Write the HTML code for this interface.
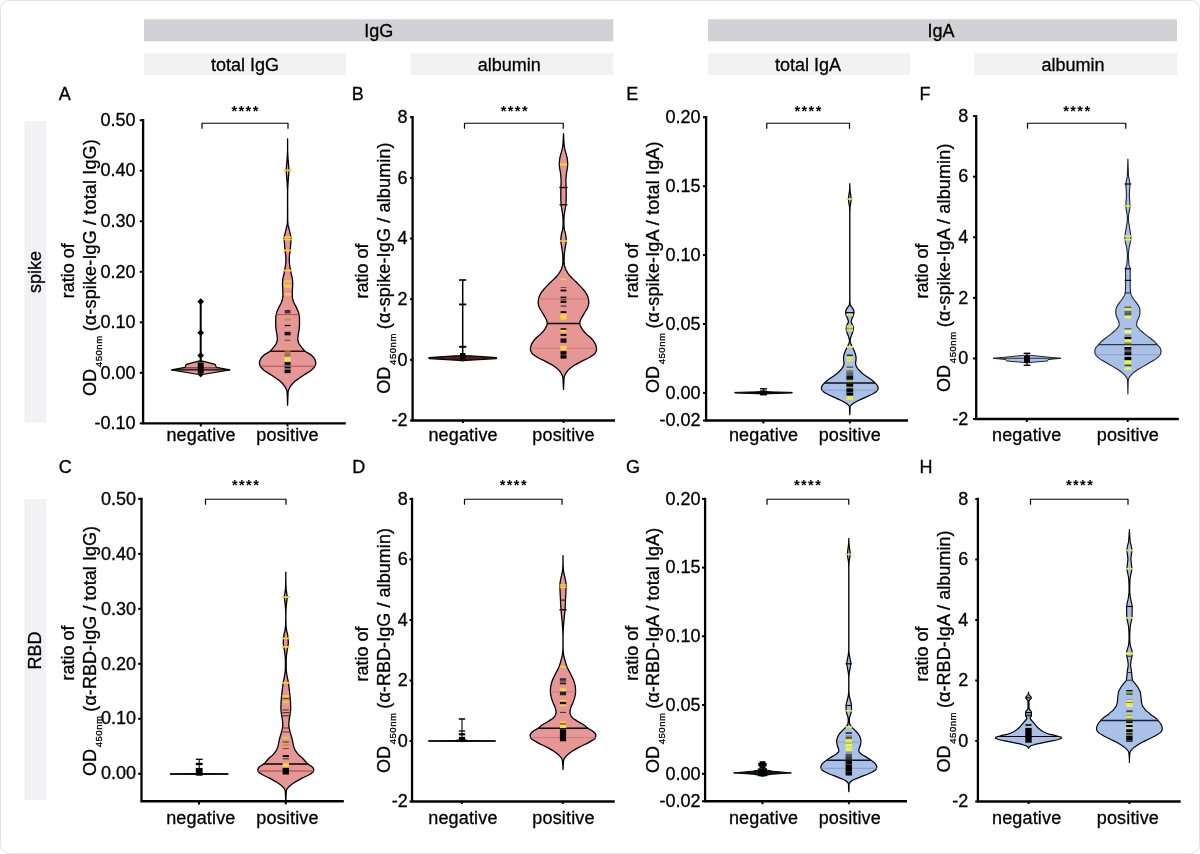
<!DOCTYPE html>
<html><head><meta charset="utf-8"><title>Figure</title>
<style>
html,body{margin:0;padding:0;background:#fff;}
body{width:1200px;height:854px;overflow:hidden;position:relative;font-family:"Liberation Sans", Arial, Helvetica, sans-serif;}
#card{position:absolute;box-sizing:border-box;left:-0.5px;top:-0.5px;width:1200.9px;height:854.6px;background:#fff;border-radius:9.5px;border:1.5px solid #e2e2e2;}
svg{position:absolute;left:0;top:0;}
text{font-family:"Liberation Sans", Arial, Helvetica, sans-serif;fill:#000;stroke:#000;stroke-width:0.3px;}
.t{font-size:18px;}
.h{font-size:18px;}
.x{letter-spacing:0.16px;}
.l{font-size:18px;}
.s{font-size:14.5px;font-weight:bold;letter-spacing:1.45px;stroke-width:0;}
.sub{font-size:9.6px;letter-spacing:0.5px;}
</style></head><body>
<div id="card"></div>
<svg width="1200" height="854" viewBox="0 0 1200 854">
<rect x="144" y="19.3" width="469.3" height="22" fill="#d1d1d6"/>
<rect x="708" y="19.3" width="469" height="22" fill="#d1d1d6"/>
<rect x="144" y="53.4" width="202" height="21.6" fill="#f2f2f5"/>
<rect x="410.5" y="53.4" width="202.8" height="21.6" fill="#f2f2f5"/>
<rect x="708" y="53.4" width="202" height="21.6" fill="#f2f2f5"/>
<rect x="974.3" y="53.4" width="202.7" height="21.6" fill="#f2f2f5"/>
<rect x="24.3" y="121" width="21.7" height="301.5" fill="#f2f2f5"/>
<rect x="24.3" y="499" width="21.7" height="301" fill="#f2f2f5"/>
<text x="378.75" y="36.9" text-anchor="middle" class="h">IgG</text>
<text x="941" y="36.9" text-anchor="middle" class="h">IgA</text>
<text x="245" y="71.2" text-anchor="middle" class="h">total IgG</text>
<text x="509.25" y="71.2" text-anchor="middle" class="h">albumin</text>
<text x="808" y="71.2" text-anchor="middle" class="h">total IgA</text>
<text x="1073" y="71.2" text-anchor="middle" class="h">albumin</text>
<text transform="translate(41.1 272) rotate(-90)" text-anchor="middle" class="t">spike</text>
<text transform="translate(41.1 650.6) rotate(-90)" text-anchor="middle" class="t">RBD</text>
<g id="panelA">
<path d="M200.7 360.7L215.2 364.4L216.3 367.3L229.9 369.8L202.7 374.5L200.7 376.5L200.7 376.5L198.7 374.5L171.5 369.8L185.1 367.3L186.2 364.4L200.7 360.7Z" fill="#e79696" stroke="#000" stroke-width="1.2" stroke-linejoin="round"/>
<line x1="171.5" x2="229.9" y1="369.8" y2="369.8" stroke="#000" stroke-width="1.2"/>
<line x1="181.84" x2="219.56" y1="367.9" y2="367.9" stroke="#3a1010" stroke-width="0.9"/>
<line x1="200.7" x2="200.7" y1="301.5" y2="362" stroke="#000" stroke-width="2.0"/>
<rect x="197.7" y="362.4" width="6" height="11.2" fill="#000"/>
<path d="M200.7 298.3L204 301.6L200.7 304.9L197.4 301.6Z" fill="#000"/>
<path d="M200.7 329.4L204 332.7L200.7 336L197.4 332.7Z" fill="#000"/>
<path d="M200.7 352.2L204 355.5L200.7 358.8L197.4 355.5Z" fill="#000"/>
<path d="M200.7 372L202.7 374L200.7 376L198.7 374Z" fill="#000"/>
<path d="M287.6 138.8L287.6 140.01L287.6 141.21L287.61 142.42L287.61 143.62L287.62 144.83L287.62 146.03L287.63 147.24L287.64 148.44L287.65 149.65L287.66 150.85L287.69 152.06L287.74 153.27L287.8 154.47L287.86 155.68L287.93 156.88L288.01 158.09L288.09 159.29L288.19 160.5L288.3 161.7L288.41 162.91L288.51 164.11L288.61 165.32L288.72 166.52L288.82 167.73L288.9 168.94L288.95 170.14L288.94 171.35L288.88 172.55L288.79 173.76L288.67 174.96L288.57 176.17L288.47 177.37L288.38 178.58L288.29 179.78L288.2 180.99L288.11 182.2L288.03 183.4L287.97 184.61L287.9 185.81L287.82 187.02L287.76 188.22L287.7 189.43L287.67 190.63L287.65 191.84L287.65 193.04L287.65 194.25L287.65 195.46L287.65 196.66L287.65 197.87L287.65 199.07L287.66 200.28L287.66 201.48L287.66 202.69L287.66 203.89L287.67 205.1L287.67 206.3L287.67 207.51L287.68 208.71L287.68 209.92L287.68 211.13L287.69 212.33L287.69 213.54L287.7 214.74L287.7 215.95L287.71 217.15L287.72 218.36L287.74 219.56L287.76 220.77L287.78 221.97L287.83 223.18L287.99 224.39L288.24 225.59L288.54 226.8L288.84 228L289.11 229.21L289.41 230.41L289.72 231.62L290.03 232.82L290.32 234.03L290.6 235.23L290.92 236.44L291.1 237.65L291.08 238.85L291.01 240.06L290.92 241.26L290.82 242.47L290.72 243.67L290.63 244.88L290.55 246.08L290.46 247.29L290.37 248.49L290.27 249.7L290.14 250.9L289.96 252.11L289.74 253.32L289.55 254.52L289.42 255.73L289.37 256.93L289.33 258.14L289.31 259.34L289.3 260.55L289.33 261.75L289.43 262.96L289.56 264.16L289.72 265.37L289.88 266.58L290.07 267.78L290.31 268.99L290.56 270.19L290.79 271.4L290.99 272.6L291.19 273.81L291.43 275.01L291.75 276.22L292.09 277.42L292.36 278.63L292.51 279.84L292.58 281.04L292.64 282.25L292.68 283.45L292.7 284.66L292.68 285.86L292.61 287.07L292.51 288.27L292.43 289.48L292.39 290.68L292.35 291.89L292.33 293.1L292.31 294.3L292.3 295.51L292.36 296.71L292.52 297.92L292.74 299.12L293 300.33L293.44 301.53L293.99 302.74L294.58 303.94L295.16 305.15L295.79 306.35L296.41 307.56L296.97 308.77L297.51 309.97L298.04 311.18L298.5 312.38L298.84 313.59L299.05 314.79L299.24 316L299.39 317.2L299.48 318.41L299.5 319.61L299.5 320.82L299.5 322.03L299.5 323.23L299.5 324.44L299.47 325.64L299.39 326.85L299.27 328.05L299.15 329.26L299 330.46L298.79 331.67L298.55 332.87L298.33 334.08L298.17 335.29L298.02 336.49L297.89 337.7L297.81 338.9L297.85 340.11L298.12 341.31L298.56 342.52L299.07 343.72L299.76 344.93L300.72 346.13L301.73 347.34L302.68 348.54L303.67 349.75L304.83 350.96L306.45 352.16L308.58 353.37L310.6 354.57L312 355.78L313.16 356.98L314.13 358.19L314.82 359.39L315.27 360.6L315.64 361.8L315.8 363.01L315.64 364.22L315.23 365.42L314.68 366.63L313.78 367.83L312.58 369.04L311.24 370.24L309.63 371.45L307.74 372.65L305.79 373.86L303.94 375.06L302.08 376.27L300.23 377.48L298.5 378.68L296.88 379.89L295.32 381.09L293.91 382.3L292.72 383.5L291.68 384.71L290.77 385.91L290 387.12L289.4 388.32L288.83 389.53L288.38 390.73L288.12 391.94L288.03 393.15L287.97 394.35L287.93 395.56L287.89 396.76L287.85 397.97L287.81 399.17L287.76 400.38L287.72 401.58L287.68 402.79L287.64 403.99L287.6 405.2L287.6 405.2L287.56 403.99L287.52 402.79L287.48 401.58L287.44 400.38L287.39 399.17L287.35 397.97L287.31 396.76L287.27 395.56L287.23 394.35L287.17 393.15L287.08 391.94L286.82 390.73L286.37 389.53L285.8 388.32L285.2 387.12L284.43 385.91L283.52 384.71L282.48 383.5L281.29 382.3L279.88 381.09L278.32 379.89L276.7 378.68L274.97 377.48L273.12 376.27L271.26 375.06L269.41 373.86L267.46 372.65L265.57 371.45L263.96 370.24L262.62 369.04L261.42 367.83L260.52 366.63L259.97 365.42L259.56 364.22L259.4 363.01L259.56 361.8L259.93 360.6L260.38 359.39L261.07 358.19L262.04 356.98L263.2 355.78L264.6 354.57L266.62 353.37L268.75 352.16L270.37 350.96L271.53 349.75L272.52 348.54L273.47 347.34L274.48 346.13L275.44 344.93L276.13 343.72L276.64 342.52L277.08 341.31L277.35 340.11L277.39 338.9L277.31 337.7L277.18 336.49L277.03 335.29L276.87 334.08L276.65 332.87L276.41 331.67L276.2 330.46L276.05 329.26L275.93 328.05L275.81 326.85L275.73 325.64L275.7 324.44L275.7 323.23L275.7 322.03L275.7 320.82L275.7 319.61L275.72 318.41L275.81 317.2L275.96 316L276.15 314.79L276.36 313.59L276.7 312.38L277.16 311.18L277.69 309.97L278.23 308.77L278.79 307.56L279.41 306.35L280.04 305.15L280.62 303.94L281.21 302.74L281.76 301.53L282.2 300.33L282.46 299.12L282.68 297.92L282.84 296.71L282.9 295.51L282.89 294.3L282.87 293.1L282.85 291.89L282.81 290.68L282.77 289.48L282.69 288.27L282.59 287.07L282.52 285.86L282.5 284.66L282.52 283.45L282.56 282.25L282.62 281.04L282.69 279.84L282.84 278.63L283.11 277.42L283.45 276.22L283.77 275.01L284.01 273.81L284.21 272.6L284.41 271.4L284.64 270.19L284.89 268.99L285.13 267.78L285.32 266.58L285.48 265.37L285.64 264.16L285.77 262.96L285.87 261.75L285.9 260.55L285.89 259.34L285.87 258.14L285.83 256.93L285.78 255.73L285.65 254.52L285.46 253.32L285.24 252.11L285.06 250.9L284.93 249.7L284.83 248.49L284.74 247.29L284.65 246.08L284.57 244.88L284.48 243.67L284.38 242.47L284.28 241.26L284.19 240.06L284.12 238.85L284.1 237.65L284.28 236.44L284.6 235.23L284.88 234.03L285.17 232.82L285.48 231.62L285.79 230.41L286.09 229.21L286.36 228L286.66 226.8L286.96 225.59L287.21 224.39L287.37 223.18L287.42 221.97L287.44 220.77L287.46 219.56L287.48 218.36L287.49 217.15L287.5 215.95L287.5 214.74L287.51 213.54L287.51 212.33L287.52 211.13L287.52 209.92L287.52 208.71L287.53 207.51L287.53 206.3L287.53 205.1L287.54 203.89L287.54 202.69L287.54 201.48L287.54 200.28L287.55 199.07L287.55 197.87L287.55 196.66L287.55 195.46L287.55 194.25L287.55 193.04L287.55 191.84L287.53 190.63L287.5 189.43L287.44 188.22L287.38 187.02L287.3 185.81L287.23 184.61L287.17 183.4L287.09 182.2L287 180.99L286.91 179.78L286.82 178.58L286.73 177.37L286.63 176.17L286.53 174.96L286.41 173.76L286.32 172.55L286.26 171.35L286.25 170.14L286.3 168.94L286.38 167.73L286.48 166.52L286.59 165.32L286.69 164.11L286.79 162.91L286.9 161.7L287.01 160.5L287.11 159.29L287.19 158.09L287.27 156.88L287.34 155.68L287.4 154.47L287.46 153.27L287.51 152.06L287.54 150.85L287.55 149.65L287.56 148.44L287.57 147.24L287.58 146.03L287.58 144.83L287.59 143.62L287.59 142.42L287.6 141.21L287.6 140.01L287.6 138.8Z" fill="#e79696" stroke="#000" stroke-width="1.3" stroke-linejoin="round"/>
<line x1="276.18" x2="299.02" y1="314.6" y2="314.6" stroke="#a84848" stroke-width="0.9"/>
<line x1="260.3" x2="314.9" y1="366.2" y2="366.2" stroke="#a84848" stroke-width="0.9"/>
<line x1="270.1" x2="305.1" y1="351.2" y2="351.2" stroke="#3a0c0c" stroke-width="1.4"/>
<rect x="283.4" y="169.5" width="8.4" height="1.8" fill="#f5d327"/>
<rect x="283.3" y="236.5" width="8.6" height="1.6" fill="#f5d327"/>
<rect x="283.3" y="238.9" width="8.6" height="1.4" fill="#f5d327"/>
<rect x="283.4" y="249.5" width="8.4" height="1.8" fill="#f5d327"/>
<rect x="283.6" y="269.7" width="8" height="1.8" fill="#f5d327"/>
<rect x="284" y="280.5" width="7.2" height="1.8" fill="#f5d327"/>
<rect x="284" y="284.6" width="7.2" height="1.4" fill="#f5d327"/>
<rect x="284" y="286.3" width="7.2" height="1.4" fill="#f5d327"/>
<rect x="284" y="293.3" width="7.2" height="2.2" fill="#f5d327"/>
<rect x="284.7" y="310" width="5.8" height="3.4" fill="#3a3236"/>
<rect x="284.7" y="318.7" width="5.8" height="1.8" fill="#b09a20"/>
<rect x="284.7" y="324.85" width="5.8" height="1.3" fill="#000"/>
<rect x="284.6" y="331.85" width="6" height="3.5" fill="#120c0c"/>
<rect x="284.7" y="339.7" width="5.8" height="1" fill="#6a3a3a"/>
<rect x="284.6" y="350.5" width="6" height="1" fill="#c8b428"/>
<rect x="284.6" y="351.9" width="6" height="1" fill="#a89428"/>
<rect x="284.6" y="353.4" width="6" height="1" fill="#6a5a20"/>
<rect x="284.6" y="355.1" width="6" height="1" fill="#7a4a3a"/>
<rect x="284.5" y="357.4" width="6.2" height="4" fill="#f0e63c"/>
<rect x="284.6" y="362.15" width="6" height="2.7" fill="#000"/>
<rect x="284.6" y="365.3" width="6" height="1.4" fill="#555a66"/>
<rect x="284.6" y="366.9" width="6" height="1.4" fill="#000"/>
<rect x="284.6" y="368.4" width="6" height="0.8" fill="#6a6420"/>
<rect x="284.6" y="369.6" width="6" height="3.6" fill="#000"/>
<path d="M143.1 119.1V423.35H345.8" fill="none" stroke="#000" stroke-width="2.3" stroke-linecap="butt" stroke-linejoin="miter"/>
<line x1="139.75" x2="143.1" y1="120.25" y2="120.25" stroke="#000" stroke-width="2.0"/>
<text x="135.55" y="125.95" text-anchor="end" class="t">0.50</text>
<line x1="139.75" x2="143.1" y1="170.77" y2="170.77" stroke="#000" stroke-width="2.0"/>
<text x="135.55" y="176.47" text-anchor="end" class="t">0.40</text>
<line x1="139.75" x2="143.1" y1="221.28" y2="221.28" stroke="#000" stroke-width="2.0"/>
<text x="135.55" y="226.98" text-anchor="end" class="t">0.30</text>
<line x1="139.75" x2="143.1" y1="271.8" y2="271.8" stroke="#000" stroke-width="2.0"/>
<text x="135.55" y="277.5" text-anchor="end" class="t">0.20</text>
<line x1="139.75" x2="143.1" y1="322.32" y2="322.32" stroke="#000" stroke-width="2.0"/>
<text x="135.55" y="328.02" text-anchor="end" class="t">0.10</text>
<line x1="139.75" x2="143.1" y1="372.83" y2="372.83" stroke="#000" stroke-width="2.0"/>
<text x="135.55" y="378.53" text-anchor="end" class="t">0.00</text>
<line x1="139.75" x2="143.1" y1="423.35" y2="423.35" stroke="#000" stroke-width="2.0"/>
<text x="135.55" y="429.05" text-anchor="end" class="t">-0.10</text>
<line x1="200.8" x2="200.8" y1="423.35" y2="426.48" stroke="#000" stroke-width="2.0"/>
<line x1="287.5" x2="287.5" y1="423.35" y2="426.48" stroke="#000" stroke-width="2.0"/>
<text x="201.1" y="441.3" text-anchor="middle" class="t x">negative</text>
<text x="287.5" y="441.3" text-anchor="middle" class="t x">positive</text>
<text x="58.8" y="100" class="l">A</text>
<path d="M202 128.65V123.25H288V128.65" fill="none" stroke="#000" stroke-width="1.2" stroke-linejoin="round"/>
<text x="245.6" y="115.8" text-anchor="middle" class="s">****</text>
<text transform="translate(74 270.8) rotate(-90)" text-anchor="middle" class="t">ratio of</text>
<text transform="translate(95.8 395.9) rotate(-90)" class="t">OD<tspan class="sub" dx="1.75" dy="5.9">450nm</tspan><tspan dx="-1.2" dy="-5.9" letter-spacing="0.15"> (α-spike-IgG / total IgG)</tspan></text>
</g>
<g id="panelB">
<path d="M462.7 355.2L465.3 355.6L474.7 356.2L496.4 357.6L496.4 358.6L478.7 359.6L465.7 360.4L462.7 361L462.7 361L459.7 360.4L446.7 359.6L429 358.6L429 357.6L450.7 356.2L460.1 355.6L462.7 355.2Z" fill="#5a1a1e" stroke="#000" stroke-width="1.2" stroke-linejoin="round"/>
<line x1="462.7" x2="462.7" y1="280" y2="356" stroke="#000" stroke-width="1.5"/>
<rect x="459.1" y="279.2" width="7.2" height="1.6" fill="#000"/>
<rect x="459.1" y="303.5" width="7.2" height="1.8" fill="#000"/>
<rect x="459.1" y="345.8" width="7.2" height="2" fill="#000"/>
<rect x="460" y="353" width="5.4" height="6.6" fill="#000"/>
<path d="M563.5 133.7L563.55 134.91L563.61 136.11L563.66 137.32L563.72 138.52L563.79 139.73L563.85 140.94L563.91 142.14L563.98 143.35L564.06 144.56L564.19 145.76L564.38 146.97L564.63 148.17L564.92 149.38L565.22 150.59L565.52 151.79L565.85 153L566.22 154.2L566.56 155.41L566.84 156.62L567.1 157.82L567.32 159.03L567.45 160.23L567.56 161.44L567.65 162.65L567.69 163.85L567.68 165.06L567.6 166.27L567.46 167.47L567.3 168.68L567.06 169.88L566.8 171.09L566.62 172.3L566.46 173.5L566.32 174.71L566.21 175.91L566.11 177.12L566.01 178.33L565.94 179.53L565.9 180.74L565.91 181.95L565.94 183.15L565.98 184.36L566.03 185.56L566.07 186.77L566.1 187.98L566.12 189.18L566.15 190.39L566.16 191.59L566.18 192.8L566.19 194.01L566.2 195.21L566.2 196.42L566.18 197.62L566.16 198.83L566.12 200.04L566.07 201.24L566.01 202.45L565.94 203.66L565.86 204.86L565.71 206.07L565.52 207.27L565.32 208.48L565.09 209.69L564.85 210.89L564.66 212.1L564.49 213.3L564.33 214.51L564.2 215.72L564.1 216.92L564.04 218.13L563.98 219.34L563.93 220.54L563.91 221.75L563.9 222.95L563.92 224.16L563.96 225.37L564.02 226.57L564.09 227.78L564.23 228.98L564.52 230.19L564.88 231.4L565.21 232.6L565.47 233.81L565.71 235.02L565.92 236.22L566.03 237.43L566.12 238.63L566.18 239.84L566.2 241.05L566.13 242.25L565.95 243.46L565.73 244.66L565.52 245.87L565.33 247.08L565.12 248.28L564.92 249.49L564.74 250.69L564.59 251.9L564.44 253.11L564.31 254.31L564.22 255.52L564.18 256.73L564.14 257.93L564.12 259.14L564.1 260.34L564.1 261.55L564.14 262.76L564.21 263.96L564.39 265.17L564.71 266.37L565.09 267.58L565.51 268.79L566.04 269.99L566.67 271.2L567.38 272.41L568.18 273.61L569.11 274.82L570.13 276.02L571.21 277.23L572.39 278.44L573.66 279.64L574.94 280.85L576.17 282.05L577.39 283.26L578.6 284.47L579.77 285.67L580.93 286.88L582.07 288.08L583.14 289.29L584.11 290.5L585.03 291.7L585.89 292.91L586.61 294.12L587.18 295.32L587.71 296.53L588.13 297.73L588.41 298.94L588.58 300.15L588.72 301.35L588.8 302.56L588.73 303.76L588.47 304.97L588.1 306.18L587.68 307.38L587.07 308.59L586.35 309.8L585.61 311L584.92 312.21L584.2 313.41L583.47 314.62L582.77 315.83L582.1 317.03L581.39 318.24L580.74 319.44L580.26 320.65L579.99 321.86L579.82 323.06L579.87 324.27L580.23 325.47L580.8 326.68L581.48 327.89L582.17 329.09L583.02 330.3L584.04 331.51L585.17 332.71L586.32 333.92L587.57 335.12L588.96 336.33L590.35 337.54L591.61 338.74L592.63 339.95L593.59 341.15L594.45 342.36L595.16 343.57L595.66 344.77L596.05 345.98L596.38 347.19L596.57 348.39L596.56 349.6L596.28 350.8L595.82 352.01L595.14 353.22L593.88 354.42L592.21 355.63L590.4 356.83L588.37 358.04L585.97 359.25L583.47 360.45L581.12 361.66L578.76 362.87L576.46 364.07L574.36 365.28L572.55 366.48L570.89 367.69L569.42 368.9L568.21 370.1L567.17 371.31L566.27 372.51L565.53 373.72L564.98 374.93L564.51 376.13L564.18 377.34L564.04 378.54L563.95 379.75L563.89 380.96L563.84 382.16L563.78 383.37L563.72 384.58L563.66 385.78L563.6 386.99L563.55 388.19L563.5 389.4L563.5 389.4L563.45 388.19L563.4 386.99L563.34 385.78L563.28 384.58L563.22 383.37L563.16 382.16L563.11 380.96L563.05 379.75L562.96 378.54L562.82 377.34L562.49 376.13L562.02 374.93L561.47 373.72L560.73 372.51L559.83 371.31L558.79 370.1L557.58 368.9L556.11 367.69L554.45 366.48L552.64 365.28L550.54 364.07L548.24 362.87L545.88 361.66L543.53 360.45L541.03 359.25L538.63 358.04L536.6 356.83L534.79 355.63L533.12 354.42L531.86 353.22L531.18 352.01L530.72 350.8L530.44 349.6L530.43 348.39L530.62 347.19L530.95 345.98L531.34 344.77L531.84 343.57L532.55 342.36L533.41 341.15L534.37 339.95L535.39 338.74L536.65 337.54L538.04 336.33L539.43 335.12L540.68 333.92L541.83 332.71L542.96 331.51L543.98 330.3L544.83 329.09L545.52 327.89L546.2 326.68L546.77 325.47L547.13 324.27L547.18 323.06L547.01 321.86L546.74 320.65L546.26 319.44L545.61 318.24L544.9 317.03L544.23 315.83L543.53 314.62L542.8 313.41L542.08 312.21L541.39 311L540.65 309.8L539.93 308.59L539.32 307.38L538.9 306.18L538.53 304.97L538.27 303.76L538.2 302.56L538.28 301.35L538.42 300.15L538.59 298.94L538.87 297.73L539.29 296.53L539.82 295.32L540.39 294.12L541.11 292.91L541.97 291.7L542.89 290.5L543.86 289.29L544.93 288.08L546.07 286.88L547.23 285.67L548.4 284.47L549.61 283.26L550.83 282.05L552.06 280.85L553.34 279.64L554.61 278.44L555.79 277.23L556.87 276.02L557.89 274.82L558.82 273.61L559.62 272.41L560.33 271.2L560.96 269.99L561.49 268.79L561.91 267.58L562.29 266.37L562.61 265.17L562.79 263.96L562.86 262.76L562.9 261.55L562.9 260.34L562.88 259.14L562.86 257.93L562.82 256.73L562.78 255.52L562.69 254.31L562.56 253.11L562.41 251.9L562.26 250.69L562.08 249.49L561.88 248.28L561.67 247.08L561.48 245.87L561.27 244.66L561.05 243.46L560.87 242.25L560.8 241.05L560.82 239.84L560.88 238.63L560.97 237.43L561.08 236.22L561.29 235.02L561.53 233.81L561.79 232.6L562.12 231.4L562.48 230.19L562.77 228.98L562.91 227.78L562.98 226.57L563.04 225.37L563.08 224.16L563.1 222.95L563.09 221.75L563.07 220.54L563.02 219.34L562.96 218.13L562.9 216.92L562.8 215.72L562.67 214.51L562.51 213.3L562.34 212.1L562.15 210.89L561.91 209.69L561.68 208.48L561.48 207.27L561.29 206.07L561.14 204.86L561.06 203.66L560.99 202.45L560.93 201.24L560.88 200.04L560.84 198.83L560.82 197.62L560.8 196.42L560.8 195.21L560.81 194.01L560.82 192.8L560.84 191.59L560.85 190.39L560.88 189.18L560.9 187.98L560.93 186.77L560.97 185.56L561.02 184.36L561.06 183.15L561.09 181.95L561.1 180.74L561.06 179.53L560.99 178.33L560.89 177.12L560.79 175.91L560.68 174.71L560.54 173.5L560.38 172.3L560.2 171.09L559.94 169.88L559.7 168.68L559.54 167.47L559.4 166.27L559.32 165.06L559.31 163.85L559.35 162.65L559.44 161.44L559.55 160.23L559.68 159.03L559.9 157.82L560.16 156.62L560.44 155.41L560.78 154.2L561.15 153L561.48 151.79L561.78 150.59L562.08 149.38L562.37 148.17L562.62 146.97L562.81 145.76L562.94 144.56L563.02 143.35L563.09 142.14L563.15 140.94L563.21 139.73L563.28 138.52L563.34 137.32L563.39 136.11L563.45 134.91L563.5 133.7Z" fill="#e79696" stroke="#000" stroke-width="1.3" stroke-linejoin="round"/>
<line x1="538.6" x2="588.4" y1="298.9" y2="298.9" stroke="#c87575" stroke-width="0.8"/>
<line x1="530.44" x2="596.56" y1="348.3" y2="348.3" stroke="#c87575" stroke-width="0.8"/>
<line x1="547.2" x2="579.8" y1="323.5" y2="323.5" stroke="#000" stroke-width="1.4"/>
<rect x="559.9" y="163.3" width="7.2" height="2.2" fill="#f5d327"/>
<rect x="559.3" y="186.85" width="8.4" height="1.3" fill="#000"/>
<rect x="559.5" y="204.05" width="8" height="1.3" fill="#000"/>
<rect x="559.9" y="240.2" width="7.2" height="1.6" fill="#f5d327"/>
<rect x="560.6" y="278.55" width="5.8" height="1.5" fill="#f5d327"/>
<rect x="560.6" y="287" width="5.8" height="1" fill="#6a4a4a"/>
<rect x="560.6" y="289.6" width="5.8" height="1.8" fill="#000"/>
<rect x="560.6" y="296.6" width="5.8" height="1.4" fill="#000"/>
<rect x="560.6" y="298.55" width="5.8" height="1.7" fill="#6a5a20"/>
<rect x="560.6" y="300.7" width="5.8" height="2.2" fill="#000"/>
<rect x="560.6" y="305.45" width="5.8" height="1.3" fill="#5a3a32"/>
<rect x="560.6" y="311.2" width="5.8" height="1.8" fill="#000"/>
<rect x="560.5" y="314.3" width="6" height="5.2" fill="#f6d63a"/>
<rect x="560.6" y="328.3" width="5.8" height="1.4" fill="#000"/>
<rect x="560.5" y="330.1" width="6" height="2.2" fill="#f6d63a"/>
<rect x="560.6" y="334" width="5.8" height="1.8" fill="#000"/>
<rect x="560.5" y="338.4" width="6" height="4.4" fill="#1a1212"/>
<rect x="560.4" y="345.9" width="6.2" height="4" fill="#f6d63a"/>
<rect x="560.5" y="351.2" width="6" height="2.8" fill="#000"/>
<rect x="560.5" y="354" width="6" height="1.2" fill="#443c30"/>
<rect x="560.5" y="355.2" width="6" height="3.4" fill="#000"/>
<path d="M412.6 116.1V420.5H615" fill="none" stroke="#000" stroke-width="2.3" stroke-linecap="butt" stroke-linejoin="miter"/>
<line x1="410.05" x2="412.6" y1="117.25" y2="117.25" stroke="#000" stroke-width="2.0"/>
<text x="407.55" y="122.95" text-anchor="end" class="t">8</text>
<line x1="410.05" x2="412.6" y1="177.9" y2="177.9" stroke="#000" stroke-width="2.0"/>
<text x="407.55" y="183.6" text-anchor="end" class="t">6</text>
<line x1="410.05" x2="412.6" y1="238.55" y2="238.55" stroke="#000" stroke-width="2.0"/>
<text x="407.55" y="244.25" text-anchor="end" class="t">4</text>
<line x1="410.05" x2="412.6" y1="299.2" y2="299.2" stroke="#000" stroke-width="2.0"/>
<text x="407.55" y="304.9" text-anchor="end" class="t">2</text>
<line x1="410.05" x2="412.6" y1="359.85" y2="359.85" stroke="#000" stroke-width="2.0"/>
<text x="407.55" y="365.55" text-anchor="end" class="t">0</text>
<line x1="410.05" x2="412.6" y1="420.5" y2="420.5" stroke="#000" stroke-width="2.0"/>
<text x="407.55" y="426.2" text-anchor="end" class="t">-2</text>
<line x1="463" x2="463" y1="420.5" y2="422.91" stroke="#000" stroke-width="2.0"/>
<line x1="563.6" x2="563.6" y1="420.5" y2="422.91" stroke="#000" stroke-width="2.0"/>
<text x="463.1" y="441.3" text-anchor="middle" class="t x">negative</text>
<text x="563.5" y="441.3" text-anchor="middle" class="t x">positive</text>
<text x="351.75" y="100" class="l">B</text>
<path d="M464.5 128.65V123.25H563.25V128.65" fill="none" stroke="#000" stroke-width="1.2" stroke-linejoin="round"/>
<text x="514.85" y="115.8" text-anchor="middle" class="s">****</text>
<text transform="translate(367.7 271.1) rotate(-90)" text-anchor="middle" class="t">ratio of</text>
<text transform="translate(389.9 393.7) rotate(-90)" class="t">OD<tspan class="sub" dx="1.75" dy="5.9">450nm</tspan><tspan dx="-1.2" dy="-5.9" letter-spacing="0.15"> (α-spike-IgG / albumin)</tspan></text>
</g>
<g id="panelE">
<path d="M763.5 391.5L773.5 391.9L792.2 392.4L792.2 393L773.5 393.6L763.5 394L763.5 394L753.5 393.6L734.8 393L734.8 392.4L753.5 391.9L763.5 391.5Z" fill="#000" stroke="#000" stroke-width="1.0" stroke-linejoin="round"/>
<line x1="763.5" x2="763.5" y1="388.8" y2="392" stroke="#000" stroke-width="1.1"/>
<rect x="760.1" y="388.1" width="6.8" height="1.4" fill="#000"/>
<rect x="760.1" y="390.4" width="6.8" height="5" fill="#000"/>
<path d="M849.8 183.7L849.81 184.91L849.84 186.12L849.88 187.33L849.93 188.54L849.99 189.75L850.08 190.96L850.25 192.17L850.46 193.38L850.65 194.59L850.81 195.8L850.98 197.01L851.11 198.22L851.14 199.43L851.04 200.64L850.87 201.85L850.69 203.06L850.51 204.27L850.3 205.48L850.11 206.69L850 207.9L849.96 209.11L849.92 210.32L849.89 211.53L849.87 212.74L849.85 213.95L849.85 215.16L849.85 216.37L849.85 217.58L849.85 218.79L849.85 220L849.85 221.21L849.85 222.42L849.85 223.63L849.85 224.84L849.85 226.05L849.85 227.26L849.85 228.47L849.85 229.68L849.85 230.89L849.85 232.1L849.85 233.31L849.85 234.52L849.85 235.73L849.85 236.94L849.85 238.15L849.85 239.36L849.85 240.57L849.85 241.78L849.85 242.99L849.85 244.2L849.85 245.41L849.85 246.62L849.85 247.83L849.85 249.04L849.85 250.25L849.85 251.46L849.85 252.67L849.85 253.88L849.85 255.09L849.85 256.3L849.85 257.51L849.85 258.72L849.85 259.93L849.85 261.14L849.85 262.35L849.85 263.56L849.85 264.77L849.85 265.98L849.85 267.19L849.85 268.4L849.85 269.61L849.85 270.82L849.85 272.03L849.85 273.24L849.85 274.45L849.85 275.66L849.85 276.87L849.85 278.08L849.85 279.29L849.85 280.5L849.85 281.71L849.85 282.92L849.85 284.13L849.85 285.34L849.85 286.55L849.85 287.76L849.85 288.97L849.85 290.18L849.85 291.39L849.85 292.6L849.85 293.81L849.85 295.02L849.85 296.23L849.85 297.44L849.85 298.65L849.85 299.85L849.89 301.06L850 302.27L850.13 303.48L850.26 304.69L850.78 305.9L851.77 307.11L852.66 308.32L853.27 309.53L853.79 310.74L854 311.95L853.91 313.16L853.72 314.37L853.43 315.58L852.85 316.79L852.2 318L851.74 319.21L851.42 320.42L851.21 321.63L851.43 322.84L852.17 324.05L852.75 325.26L853.08 326.47L853.33 327.68L853.39 328.89L853.18 330.1L852.83 331.31L852.48 332.52L852.06 333.73L851.61 334.94L851.2 336.15L850.85 337.36L850.49 338.57L850.2 339.78L850.1 340.99L850.3 342.2L850.72 343.41L851.18 344.62L851.72 345.83L852.33 347.04L853 348.25L853.63 349.46L854.17 350.67L854.65 351.88L855.08 353.09L855.44 354.3L855.75 355.51L855.96 356.72L856.09 357.93L856.07 359.14L855.99 360.35L855.74 361.56L855.6 362.77L855.69 363.98L855.89 365.19L856.43 366.4L857.12 367.61L858 368.82L859.02 370.03L860.14 371.24L861.39 372.45L862.79 373.66L864.32 374.87L865.92 376.08L867.76 377.29L869.69 378.5L871.49 379.71L873.01 380.92L874.35 382.13L875.51 383.34L876.6 384.55L877.46 385.76L877.92 386.97L878.18 388.18L877.98 389.39L877.17 390.6L876.09 391.81L874.33 393.02L871.97 394.23L869.43 395.44L866.95 396.65L864.24 397.86L861.49 399.07L858.94 400.28L856.55 401.49L854.31 402.7L852.57 403.91L851.11 405.12L850.23 406.33L850.11 407.54L850.05 408.75L850 409.96L849.94 411.17L849.89 412.38L849.84 413.59L849.8 414.8L849.8 414.8L849.76 413.59L849.71 412.38L849.66 411.17L849.6 409.96L849.55 408.75L849.49 407.54L849.37 406.33L848.49 405.12L847.03 403.91L845.29 402.7L843.05 401.49L840.66 400.28L838.11 399.07L835.36 397.86L832.65 396.65L830.17 395.44L827.63 394.23L825.27 393.02L823.51 391.81L822.43 390.6L821.62 389.39L821.42 388.18L821.68 386.97L822.14 385.76L823 384.55L824.09 383.34L825.25 382.13L826.59 380.92L828.11 379.71L829.91 378.5L831.84 377.29L833.68 376.08L835.28 374.87L836.81 373.66L838.21 372.45L839.46 371.24L840.58 370.03L841.6 368.82L842.48 367.61L843.17 366.4L843.71 365.19L843.91 363.98L844 362.77L843.86 361.56L843.61 360.35L843.53 359.14L843.51 357.93L843.64 356.72L843.85 355.51L844.16 354.3L844.52 353.09L844.95 351.88L845.43 350.67L845.97 349.46L846.6 348.25L847.27 347.04L847.88 345.83L848.42 344.62L848.88 343.41L849.3 342.2L849.5 340.99L849.4 339.78L849.11 338.57L848.75 337.36L848.4 336.15L847.99 334.94L847.54 333.73L847.12 332.52L846.77 331.31L846.42 330.1L846.21 328.89L846.27 327.68L846.52 326.47L846.85 325.26L847.43 324.05L848.17 322.84L848.39 321.63L848.18 320.42L847.86 319.21L847.4 318L846.75 316.79L846.17 315.58L845.88 314.37L845.69 313.16L845.6 311.95L845.81 310.74L846.33 309.53L846.94 308.32L847.83 307.11L848.82 305.9L849.34 304.69L849.47 303.48L849.6 302.27L849.71 301.06L849.75 299.85L849.75 298.65L849.75 297.44L849.75 296.23L849.75 295.02L849.75 293.81L849.75 292.6L849.75 291.39L849.75 290.18L849.75 288.97L849.75 287.76L849.75 286.55L849.75 285.34L849.75 284.13L849.75 282.92L849.75 281.71L849.75 280.5L849.75 279.29L849.75 278.08L849.75 276.87L849.75 275.66L849.75 274.45L849.75 273.24L849.75 272.03L849.75 270.82L849.75 269.61L849.75 268.4L849.75 267.19L849.75 265.98L849.75 264.77L849.75 263.56L849.75 262.35L849.75 261.14L849.75 259.93L849.75 258.72L849.75 257.51L849.75 256.3L849.75 255.09L849.75 253.88L849.75 252.67L849.75 251.46L849.75 250.25L849.75 249.04L849.75 247.83L849.75 246.62L849.75 245.41L849.75 244.2L849.75 242.99L849.75 241.78L849.75 240.57L849.75 239.36L849.75 238.15L849.75 236.94L849.75 235.73L849.75 234.52L849.75 233.31L849.75 232.1L849.75 230.89L849.75 229.68L849.75 228.47L849.75 227.26L849.75 226.05L849.75 224.84L849.75 223.63L849.75 222.42L849.75 221.21L849.75 220L849.75 218.79L849.75 217.58L849.75 216.37L849.75 215.16L849.75 213.95L849.73 212.74L849.71 211.53L849.68 210.32L849.64 209.11L849.6 207.9L849.49 206.69L849.3 205.48L849.09 204.27L848.91 203.06L848.73 201.85L848.56 200.64L848.46 199.43L848.49 198.22L848.62 197.01L848.79 195.8L848.95 194.59L849.14 193.38L849.35 192.17L849.52 190.96L849.61 189.75L849.67 188.54L849.72 187.33L849.76 186.12L849.79 184.91L849.8 183.7Z" fill="#a9c1e6" stroke="#000" stroke-width="1.25" stroke-linejoin="round"/>
<line x1="822.11" x2="877.49" y1="390.2" y2="390.2" stroke="#7f9ac8" stroke-width="0.8"/>
<line x1="824.5" x2="875.1" y1="382.9" y2="382.9" stroke="#0a0e18" stroke-width="1.5"/>
<rect x="846.2" y="198.3" width="7.2" height="1.6" fill="#e6e84a"/>
<rect x="845.5" y="312" width="8.6" height="1.2" fill="#000"/>
<rect x="846.4" y="314.1" width="6.8" height="1.8" fill="#e6e84a"/>
<rect x="846.5" y="325.3" width="6.6" height="2.6" fill="#d6d868"/>
<rect x="846.5" y="328" width="6.6" height="1.2" fill="#9aa088"/>
<rect x="846.5" y="329.1" width="6.6" height="2.4" fill="#d6d868"/>
<rect x="846.4" y="345.9" width="6.8" height="2" fill="#e6e84a"/>
<rect x="846.8" y="354.5" width="6" height="1.4" fill="#1a1a1a"/>
<rect x="846.4" y="357" width="6.8" height="2.4" fill="#e6e84a"/>
<rect x="846.4" y="359.05" width="6.8" height="0.9" fill="#c8cc88"/>
<rect x="846.4" y="359.8" width="6.8" height="1.6" fill="#e6e84a"/>
<rect x="846.5" y="366.5" width="6.6" height="1.2" fill="#444"/>
<rect x="846.5" y="368.25" width="6.6" height="0.9" fill="#d0d250"/>
<rect x="846.4" y="370" width="6.8" height="2.4" fill="#7a7e84"/>
<rect x="846.4" y="372.2" width="6.8" height="2.4" fill="#5e6064"/>
<rect x="846.4" y="374.5" width="6.8" height="1.4" fill="#44464a"/>
<rect x="846.4" y="376.1" width="6.8" height="2.8" fill="#000"/>
<rect x="846.4" y="379" width="6.8" height="1.2" fill="#3a3a3a"/>
<rect x="846.4" y="380.5" width="6.8" height="1.4" fill="#c8b830"/>
<rect x="846.4" y="383.5" width="6.8" height="3.2" fill="#000"/>
<rect x="846.4" y="387.05" width="6.8" height="0.9" fill="#a8a030"/>
<rect x="846.4" y="388.3" width="6.8" height="4" fill="#000"/>
<rect x="846.4" y="391.8" width="6.8" height="1" fill="#4a5a78"/>
<rect x="846.4" y="392.8" width="6.8" height="2.8" fill="#000"/>
<rect x="846.4" y="396.3" width="6.8" height="3.6" fill="#eef040"/>
<path d="M706.1 116.1V420.5H908" fill="none" stroke="#000" stroke-width="2.3" stroke-linecap="butt" stroke-linejoin="miter"/>
<line x1="702.95" x2="706.1" y1="117.25" y2="117.25" stroke="#000" stroke-width="2.0"/>
<text x="700.6" y="122.95" text-anchor="end" class="t">0.20</text>
<line x1="702.95" x2="706.1" y1="186.2" y2="186.2" stroke="#000" stroke-width="2.0"/>
<text x="700.6" y="191.9" text-anchor="end" class="t">0.15</text>
<line x1="702.95" x2="706.1" y1="255.1" y2="255.1" stroke="#000" stroke-width="2.0"/>
<text x="700.6" y="260.8" text-anchor="end" class="t">0.10</text>
<line x1="702.95" x2="706.1" y1="324" y2="324" stroke="#000" stroke-width="2.0"/>
<text x="700.6" y="329.7" text-anchor="end" class="t">0.05</text>
<line x1="702.95" x2="706.1" y1="392.9" y2="392.9" stroke="#000" stroke-width="2.0"/>
<text x="700.6" y="398.6" text-anchor="end" class="t">0.00</text>
<line x1="702.95" x2="706.1" y1="420.5" y2="420.5" stroke="#000" stroke-width="2.0"/>
<text x="700.6" y="426.2" text-anchor="end" class="t">-0.02</text>
<line x1="763.4" x2="763.4" y1="420.5" y2="423.45" stroke="#000" stroke-width="2.0"/>
<line x1="849.8" x2="849.8" y1="420.5" y2="423.45" stroke="#000" stroke-width="2.0"/>
<text x="763.6" y="441.3" text-anchor="middle" class="t x">negative</text>
<text x="849.8" y="441.3" text-anchor="middle" class="t x">positive</text>
<text x="626.25" y="100" class="l">E</text>
<path d="M766.75 128.65V123.25H849.5V128.65" fill="none" stroke="#000" stroke-width="1.2" stroke-linejoin="round"/>
<text x="808.6" y="115.8" text-anchor="middle" class="s">****</text>
<text transform="translate(637.6 270.8) rotate(-90)" text-anchor="middle" class="t">ratio of</text>
<text transform="translate(659.3 393.1) rotate(-90)" class="t">OD<tspan class="sub" dx="1.75" dy="5.9">450nm</tspan><tspan dx="-1.2" dy="-5.9" letter-spacing="0.15"> (α-spike-IgA / total IgA)</tspan></text>
</g>
<g id="panelF">
<path d="M1027 355L1033 355.6L1047 357L1060.8 358.3L1048 359.6L1047.5 361L1033 362.2L1027 362.8L1027 362.8L1021 362.2L1006.5 361L1006 359.6L993.2 358.3L1007 357L1021 355.6L1027 355Z" fill="#a9c1e6" stroke="#111" stroke-width="0.9" stroke-linejoin="round"/>
<line x1="993.2" x2="1060.8" y1="358.3" y2="358.3" stroke="#223" stroke-width="0.9"/>
<line x1="1027" x2="1027" y1="353.3" y2="365.3" stroke="#000" stroke-width="1.2"/>
<rect x="1023.7" y="352.6" width="6.6" height="1.4" fill="#000"/>
<rect x="1024" y="355.7" width="6" height="7" fill="#000"/>
<rect x="1023.7" y="364.6" width="6.6" height="1.4" fill="#000"/>
<path d="M1127.9 159L1127.94 160.21L1127.98 161.42L1128.02 162.63L1128.06 163.85L1128.1 165.06L1128.14 166.27L1128.18 167.48L1128.22 168.69L1128.26 169.9L1128.29 171.11L1128.33 172.32L1128.37 173.54L1128.43 174.75L1128.5 175.96L1128.66 177.17L1128.94 178.38L1129.22 179.59L1129.45 180.8L1129.69 182.02L1129.86 183.23L1129.9 184.44L1129.86 185.65L1129.79 186.86L1129.71 188.07L1129.63 189.28L1129.58 190.49L1129.53 191.71L1129.47 192.92L1129.43 194.13L1129.4 195.34L1129.41 196.55L1129.46 197.76L1129.55 198.97L1129.64 200.19L1129.73 201.4L1129.82 202.61L1129.91 203.82L1129.98 205.03L1130 206.24L1129.91 207.45L1129.73 208.66L1129.5 209.88L1129.29 211.09L1129.06 212.3L1128.82 213.51L1128.63 214.72L1128.51 215.93L1128.43 217.14L1128.4 218.36L1128.44 219.57L1128.51 220.78L1128.6 221.99L1128.76 223.2L1128.99 224.41L1129.24 225.62L1129.43 226.84L1129.6 228.05L1129.77 229.26L1129.96 230.47L1130.2 231.68L1130.44 232.89L1130.61 234.1L1130.74 235.31L1130.84 236.53L1130.9 237.74L1130.86 238.95L1130.71 240.16L1130.51 241.37L1130.3 242.58L1130.04 243.79L1129.75 245.01L1129.5 246.22L1129.26 247.43L1129.03 248.64L1128.83 249.85L1128.69 251.06L1128.59 252.27L1128.5 253.48L1128.43 254.7L1128.4 255.91L1128.42 257.12L1128.49 258.33L1128.59 259.54L1128.68 260.75L1128.75 261.96L1128.81 263.18L1128.9 264.39L1129.2 265.6L1129.69 266.81L1130.1 268.02L1130.2 269.23L1130.2 270.44L1130.2 271.65L1130.2 272.87L1130.2 274.08L1130.2 275.29L1130.2 276.5L1130.2 277.71L1130.2 278.92L1130.2 280.13L1130.2 281.35L1130.2 282.56L1130.2 283.77L1130.2 284.98L1130.2 286.19L1130.21 287.4L1130.25 288.61L1130.32 289.82L1130.41 291.04L1130.53 292.25L1130.7 293.46L1131.1 294.67L1131.68 295.88L1132.3 297.09L1133.06 298.3L1133.96 299.52L1134.88 300.73L1135.77 301.94L1136.69 303.15L1137.59 304.36L1138.33 305.57L1138.96 306.78L1139.5 307.99L1139.8 309.21L1139.91 310.42L1139.98 311.63L1140 312.84L1139.86 314.05L1139.56 315.26L1139.19 316.47L1138.79 317.69L1138.21 318.9L1137.6 320.11L1137.14 321.32L1136.89 322.53L1136.69 323.74L1136.6 324.95L1136.95 326.16L1137.85 327.38L1138.94 328.59L1140.02 329.8L1141.29 331.01L1142.7 332.22L1144.14 333.43L1145.65 334.64L1147.26 335.86L1148.86 337.07L1150.4 338.28L1151.94 339.49L1153.44 340.7L1154.81 341.91L1155.96 343.12L1156.99 344.34L1158.09 345.55L1159.27 346.76L1160.16 347.97L1160.6 349.18L1160.9 350.39L1161 351.6L1160.82 352.81L1160.47 354.03L1159.92 355.24L1158.86 356.45L1157.46 357.66L1155.94 358.87L1154.18 360.08L1152.09 361.29L1149.89 362.51L1147.79 363.72L1145.7 364.93L1143.61 366.14L1141.57 367.35L1139.59 368.56L1137.61 369.77L1135.75 370.98L1134.16 372.2L1132.75 373.41L1131.47 374.62L1130.4 375.83L1129.58 377.04L1128.84 378.25L1128.36 379.46L1128.25 380.68L1128.2 381.89L1128.17 383.1L1128.14 384.31L1128.11 385.52L1128.08 386.73L1128.05 387.94L1128.01 389.15L1127.98 390.37L1127.95 391.58L1127.93 392.79L1127.9 394L1127.9 394L1127.87 392.79L1127.85 391.58L1127.82 390.37L1127.79 389.15L1127.75 387.94L1127.72 386.73L1127.69 385.52L1127.66 384.31L1127.63 383.1L1127.6 381.89L1127.55 380.68L1127.44 379.46L1126.96 378.25L1126.22 377.04L1125.4 375.83L1124.33 374.62L1123.05 373.41L1121.64 372.2L1120.05 370.98L1118.19 369.77L1116.21 368.56L1114.23 367.35L1112.19 366.14L1110.1 364.93L1108.01 363.72L1105.91 362.51L1103.71 361.29L1101.62 360.08L1099.86 358.87L1098.34 357.66L1096.94 356.45L1095.88 355.24L1095.33 354.03L1094.98 352.81L1094.8 351.6L1094.9 350.39L1095.2 349.18L1095.64 347.97L1096.53 346.76L1097.71 345.55L1098.81 344.34L1099.84 343.12L1100.99 341.91L1102.36 340.7L1103.86 339.49L1105.4 338.28L1106.94 337.07L1108.54 335.86L1110.15 334.64L1111.66 333.43L1113.1 332.22L1114.51 331.01L1115.78 329.8L1116.86 328.59L1117.95 327.38L1118.85 326.16L1119.2 324.95L1119.11 323.74L1118.91 322.53L1118.66 321.32L1118.2 320.11L1117.59 318.9L1117.01 317.69L1116.61 316.47L1116.24 315.26L1115.94 314.05L1115.8 312.84L1115.82 311.63L1115.89 310.42L1116 309.21L1116.3 307.99L1116.84 306.78L1117.47 305.57L1118.21 304.36L1119.11 303.15L1120.03 301.94L1120.92 300.73L1121.84 299.52L1122.74 298.3L1123.5 297.09L1124.12 295.88L1124.7 294.67L1125.1 293.46L1125.27 292.25L1125.39 291.04L1125.48 289.82L1125.55 288.61L1125.59 287.4L1125.6 286.19L1125.6 284.98L1125.6 283.77L1125.6 282.56L1125.6 281.35L1125.6 280.13L1125.6 278.92L1125.6 277.71L1125.6 276.5L1125.6 275.29L1125.6 274.08L1125.6 272.87L1125.6 271.65L1125.6 270.44L1125.6 269.23L1125.7 268.02L1126.11 266.81L1126.6 265.6L1126.9 264.39L1126.99 263.18L1127.05 261.96L1127.12 260.75L1127.21 259.54L1127.31 258.33L1127.38 257.12L1127.4 255.91L1127.37 254.7L1127.3 253.48L1127.21 252.27L1127.11 251.06L1126.97 249.85L1126.77 248.64L1126.54 247.43L1126.3 246.22L1126.05 245.01L1125.76 243.79L1125.5 242.58L1125.29 241.37L1125.09 240.16L1124.94 238.95L1124.9 237.74L1124.96 236.53L1125.06 235.31L1125.19 234.1L1125.36 232.89L1125.6 231.68L1125.84 230.47L1126.03 229.26L1126.2 228.05L1126.37 226.84L1126.56 225.62L1126.81 224.41L1127.04 223.2L1127.2 221.99L1127.29 220.78L1127.36 219.57L1127.4 218.36L1127.37 217.14L1127.29 215.93L1127.17 214.72L1126.98 213.51L1126.74 212.3L1126.51 211.09L1126.3 209.88L1126.07 208.66L1125.89 207.45L1125.8 206.24L1125.82 205.03L1125.89 203.82L1125.98 202.61L1126.07 201.4L1126.16 200.19L1126.25 198.97L1126.34 197.76L1126.39 196.55L1126.4 195.34L1126.37 194.13L1126.33 192.92L1126.27 191.71L1126.22 190.49L1126.17 189.28L1126.09 188.07L1126.01 186.86L1125.94 185.65L1125.9 184.44L1125.94 183.23L1126.11 182.02L1126.35 180.8L1126.58 179.59L1126.86 178.38L1127.14 177.17L1127.3 175.96L1127.37 174.75L1127.43 173.54L1127.47 172.32L1127.51 171.11L1127.54 169.9L1127.58 168.69L1127.62 167.48L1127.66 166.27L1127.7 165.06L1127.74 163.85L1127.78 162.63L1127.82 161.42L1127.86 160.21L1127.9 159Z" fill="#a9c1e6" stroke="#1a2434" stroke-width="1.1" stroke-linejoin="round"/>
<line x1="1095.58" x2="1160.22" y1="354.7" y2="354.7" stroke="#7f9ac8" stroke-width="0.8"/>
<line x1="1098.5" x2="1157.3" y1="344.7" y2="344.7" stroke="#2a3850" stroke-width="1.2"/>
<rect x="1124.6" y="183.4" width="6.6" height="1.2" fill="#000"/>
<rect x="1123.5" y="205.3" width="8.8" height="1.6" fill="#e6e84a"/>
<rect x="1124.1" y="235.3" width="7.6" height="1.6" fill="#e6e84a"/>
<rect x="1124.1" y="238.9" width="7.6" height="1.6" fill="#e6e84a"/>
<rect x="1124.6" y="268.2" width="6.6" height="1.2" fill="#000"/>
<rect x="1124.6" y="279.8" width="6.6" height="1.2" fill="#000"/>
<rect x="1125" y="292.4" width="5.8" height="1" fill="#1a2230"/>
<rect x="1124.5" y="306.5" width="6.8" height="1.4" fill="#5a6232"/>
<rect x="1124.5" y="308.3" width="6.8" height="2.2" fill="#e8ea48"/>
<rect x="1124.5" y="310.85" width="6.8" height="3.5" fill="#5e646a"/>
<rect x="1124.5" y="314.4" width="6.8" height="0.8" fill="#222"/>
<rect x="1124.5" y="315.8" width="6.8" height="2.6" fill="#eef060"/>
<rect x="1124.5" y="328.1" width="6.8" height="1.4" fill="#5a6a3a"/>
<rect x="1124.5" y="329.85" width="6.8" height="3.5" fill="#f0f08a"/>
<rect x="1124.5" y="334.3" width="6.8" height="2.2" fill="#8a8e92"/>
<rect x="1124.5" y="336.9" width="6.8" height="2.2" fill="#000"/>
<rect x="1124.5" y="339.6" width="6.8" height="2.6" fill="#eef040"/>
<rect x="1124.5" y="342.6" width="6.8" height="1.4" fill="#8a8a30"/>
<rect x="1124.5" y="345.7" width="6.8" height="1.2" fill="#d8da70"/>
<rect x="1124.5" y="347" width="6.8" height="2.8" fill="#000"/>
<rect x="1124.5" y="349.6" width="6.8" height="2.6" fill="#555a70"/>
<rect x="1124.5" y="352.2" width="6.8" height="3.2" fill="#000"/>
<rect x="1124.5" y="355.75" width="6.8" height="0.9" fill="#b0b4b8"/>
<rect x="1124.5" y="357.05" width="6.8" height="3.1" fill="#000"/>
<rect x="1124.5" y="360.55" width="6.8" height="3.5" fill="#eef040"/>
<rect x="1124.5" y="364.55" width="6.8" height="1.7" fill="#4a5230"/>
<rect x="1124.5" y="367.2" width="6.8" height="2.6" fill="#eef060"/>
<path d="M976.2 114.95V419H1178.8" fill="none" stroke="#000" stroke-width="2.3" stroke-linecap="butt" stroke-linejoin="miter"/>
<line x1="973.05" x2="976.2" y1="116.1" y2="116.1" stroke="#000" stroke-width="2.0"/>
<text x="968.3" y="121.8" text-anchor="end" class="t">8</text>
<line x1="973.05" x2="976.2" y1="176.68" y2="176.68" stroke="#000" stroke-width="2.0"/>
<text x="968.3" y="182.38" text-anchor="end" class="t">6</text>
<line x1="973.05" x2="976.2" y1="237.26" y2="237.26" stroke="#000" stroke-width="2.0"/>
<text x="968.3" y="242.96" text-anchor="end" class="t">4</text>
<line x1="973.05" x2="976.2" y1="297.84" y2="297.84" stroke="#000" stroke-width="2.0"/>
<text x="968.3" y="303.54" text-anchor="end" class="t">2</text>
<line x1="973.05" x2="976.2" y1="358.42" y2="358.42" stroke="#000" stroke-width="2.0"/>
<text x="968.3" y="364.12" text-anchor="end" class="t">0</text>
<line x1="973.05" x2="976.2" y1="419" y2="419" stroke="#000" stroke-width="2.0"/>
<text x="968.3" y="424.7" text-anchor="end" class="t">-2</text>
<line x1="1026.8" x2="1026.8" y1="419" y2="421.95" stroke="#000" stroke-width="2.0"/>
<line x1="1127.7" x2="1127.7" y1="419" y2="421.95" stroke="#000" stroke-width="2.0"/>
<text x="1026.7" y="441.3" text-anchor="middle" class="t x">negative</text>
<text x="1127.9" y="441.3" text-anchor="middle" class="t x">positive</text>
<text x="919.4" y="100" class="l">F</text>
<path d="M1027.5 128.65V123.25H1125.75V128.65" fill="none" stroke="#000" stroke-width="1.2" stroke-linejoin="round"/>
<text x="1077.35" y="115.8" text-anchor="middle" class="s">****</text>
<text transform="translate(928 271.1) rotate(-90)" text-anchor="middle" class="t">ratio of</text>
<text transform="translate(949.9 391.9) rotate(-90)" class="t">OD<tspan class="sub" dx="1.75" dy="5.9">450nm</tspan><tspan dx="-1.2" dy="-5.9" letter-spacing="0.15"> (α-spike-IgA / albumin)</tspan></text>
</g>
<g id="panelC">
<path d="M199.2 773.6L228.2 773.7L228.2 774.3L199.2 774.4L199.2 774.4L170.2 774.3L170.2 773.7L199.2 773.6Z" fill="#000" stroke="#000" stroke-width="1.0" stroke-linejoin="round"/>
<line x1="199.2" x2="199.2" y1="759.3" y2="770" stroke="#000" stroke-width="1.1"/>
<rect x="195.8" y="758.65" width="6.8" height="1.3" fill="#000"/>
<rect x="195.8" y="762.85" width="6.8" height="2.3" fill="#000"/>
<rect x="195.8" y="767.9" width="6.8" height="7.8" fill="#000"/>
<path d="M285.8 572.1L285.8 573.31L285.81 574.52L285.81 575.74L285.82 576.95L285.83 578.16L285.84 579.37L285.86 580.59L285.88 581.8L285.9 583.01L285.93 584.22L285.97 585.43L286.02 586.65L286.07 587.86L286.15 589.07L286.29 590.28L286.48 591.5L286.66 592.71L286.84 593.92L287.06 595.13L287.22 596.34L287.24 597.56L287.12 598.77L286.94 599.98L286.78 601.19L286.64 602.41L286.5 603.62L286.38 604.83L286.27 606.04L286.17 607.25L286.08 608.47L286.01 609.68L285.95 610.89L285.92 612.1L285.89 613.32L285.87 614.53L285.85 615.74L285.85 616.95L285.86 618.16L285.87 619.38L285.9 620.59L285.92 621.8L285.95 623.01L286 624.23L286.07 625.44L286.16 626.65L286.28 627.86L286.41 629.08L286.58 630.29L286.87 631.5L287.21 632.71L287.49 633.92L287.66 635.14L287.8 636.35L287.92 637.56L288.03 638.77L288.16 639.99L288.26 641.2L288.3 642.41L288.24 643.62L288.1 644.83L287.92 646.05L287.75 647.26L287.54 648.47L287.32 649.68L287.12 650.9L286.94 652.11L286.76 653.32L286.6 654.53L286.47 655.74L286.36 656.96L286.27 658.17L286.21 659.38L286.2 660.59L286.2 661.81L286.2 663.02L286.2 664.23L286.2 665.44L286.2 666.65L286.22 667.87L286.25 669.08L286.29 670.29L286.38 671.5L286.53 672.72L286.71 673.93L286.92 675.14L287.16 676.35L287.39 677.56L287.63 678.78L287.88 679.99L288.12 681.2L288.34 682.41L288.52 683.63L288.69 684.84L288.84 686.05L288.99 687.26L289.14 688.47L289.28 689.69L289.43 690.9L289.58 692.11L289.72 693.32L289.85 694.54L289.98 695.75L290.09 696.96L290.21 698.17L290.32 699.38L290.41 700.6L290.49 701.81L290.54 703.02L290.6 704.23L290.64 705.45L290.68 706.66L290.7 707.87L290.68 709.08L290.6 710.29L290.46 711.51L290.31 712.72L290.16 713.93L289.97 715.14L289.74 716.36L289.52 717.57L289.32 718.78L289.17 719.99L289.04 721.2L288.93 722.42L288.84 723.63L288.8 724.84L288.87 726.05L289.07 727.27L289.28 728.48L289.53 729.69L289.82 730.9L290.13 732.11L290.46 733.33L290.82 734.54L291.2 735.75L291.54 736.96L291.86 738.18L292.17 739.39L292.46 740.6L292.73 741.81L292.96 743.02L293.19 744.24L293.46 745.45L293.8 746.66L294.2 747.87L294.68 749.09L295.25 750.3L295.99 751.51L296.88 752.72L297.89 753.94L299.01 755.15L300.36 756.36L301.78 757.57L303.08 758.78L304.21 760L305.25 761.21L306.31 762.42L307.5 763.63L309.07 764.85L311.05 766.06L312.62 767.27L313.42 768.48L313.8 769.69L313.6 770.91L312.98 772.12L311.43 773.33L309.55 774.54L307.15 775.76L304.57 776.97L302.16 778.18L299.86 779.39L297.61 780.6L295.52 781.82L293.66 783.03L291.9 784.24L290.32 785.45L289.02 786.67L287.94 787.88L287 789.09L286.5 790.3L286.34 791.51L286.22 792.73L286.14 793.94L286.1 795.15L286.06 796.36L286.03 797.58L286.01 798.79L286 800L285.6 800L285.59 798.79L285.57 797.58L285.54 796.36L285.5 795.15L285.46 793.94L285.38 792.73L285.26 791.51L285.1 790.3L284.6 789.09L283.66 787.88L282.58 786.67L281.28 785.45L279.7 784.24L277.94 783.03L276.08 781.82L273.99 780.6L271.74 779.39L269.44 778.18L267.03 776.97L264.45 775.76L262.05 774.54L260.17 773.33L258.62 772.12L258 770.91L257.8 769.69L258.18 768.48L258.98 767.27L260.55 766.06L262.53 764.85L264.1 763.63L265.29 762.42L266.35 761.21L267.39 760L268.52 758.78L269.82 757.57L271.24 756.36L272.59 755.15L273.71 753.94L274.72 752.72L275.61 751.51L276.35 750.3L276.92 749.09L277.4 747.87L277.8 746.66L278.14 745.45L278.41 744.24L278.64 743.02L278.87 741.81L279.14 740.6L279.43 739.39L279.74 738.18L280.06 736.96L280.4 735.75L280.78 734.54L281.14 733.33L281.47 732.11L281.78 730.9L282.07 729.69L282.32 728.48L282.53 727.27L282.73 726.05L282.8 724.84L282.76 723.63L282.67 722.42L282.56 721.2L282.43 719.99L282.28 718.78L282.08 717.57L281.86 716.36L281.63 715.14L281.44 713.93L281.29 712.72L281.14 711.51L281 710.29L280.92 709.08L280.9 707.87L280.92 706.66L280.96 705.45L281 704.23L281.06 703.02L281.11 701.81L281.19 700.6L281.28 699.38L281.39 698.17L281.51 696.96L281.62 695.75L281.75 694.54L281.88 693.32L282.02 692.11L282.17 690.9L282.32 689.69L282.46 688.47L282.61 687.26L282.76 686.05L282.91 684.84L283.08 683.63L283.26 682.41L283.48 681.2L283.72 679.99L283.97 678.78L284.21 677.56L284.44 676.35L284.68 675.14L284.89 673.93L285.07 672.72L285.22 671.5L285.31 670.29L285.35 669.08L285.38 667.87L285.4 666.65L285.4 665.44L285.4 664.23L285.4 663.02L285.4 661.81L285.4 660.59L285.39 659.38L285.33 658.17L285.24 656.96L285.13 655.74L285 654.53L284.84 653.32L284.66 652.11L284.48 650.9L284.28 649.68L284.06 648.47L283.85 647.26L283.68 646.05L283.5 644.83L283.36 643.62L283.3 642.41L283.34 641.2L283.44 639.99L283.57 638.77L283.68 637.56L283.8 636.35L283.94 635.14L284.11 633.92L284.39 632.71L284.73 631.5L285.02 630.29L285.19 629.08L285.32 627.86L285.44 626.65L285.53 625.44L285.6 624.23L285.65 623.01L285.68 621.8L285.7 620.59L285.73 619.38L285.74 618.16L285.75 616.95L285.75 615.74L285.73 614.53L285.71 613.32L285.68 612.1L285.65 610.89L285.59 609.68L285.52 608.47L285.43 607.25L285.33 606.04L285.22 604.83L285.1 603.62L284.96 602.41L284.82 601.19L284.66 599.98L284.48 598.77L284.36 597.56L284.38 596.34L284.54 595.13L284.76 593.92L284.94 592.71L285.12 591.5L285.31 590.28L285.45 589.07L285.53 587.86L285.58 586.65L285.63 585.43L285.67 584.22L285.7 583.01L285.72 581.8L285.74 580.59L285.76 579.37L285.77 578.16L285.78 576.95L285.79 575.74L285.79 574.52L285.8 573.31L285.8 572.1Z" fill="#e79696" stroke="#000" stroke-width="1.3" stroke-linejoin="round"/>
<line x1="258.03" x2="313.57" y1="771" y2="771" stroke="#c25a5a" stroke-width="1.5"/>
<line x1="263.7" x2="307.9" y1="764" y2="764" stroke="#000" stroke-width="1.3"/>
<rect x="281.6" y="596.2" width="8.4" height="1.8" fill="#f5d327"/>
<rect x="281.8" y="637.5" width="8" height="1.8" fill="#f5d327"/>
<rect x="281.8" y="646" width="8" height="1.8" fill="#f5d327"/>
<rect x="281.8" y="681.9" width="8" height="1.8" fill="#f5d327"/>
<rect x="282.4" y="695.05" width="6.8" height="1.9" fill="#f5d327"/>
<rect x="282.6" y="698.1" width="6.4" height="1" fill="#5a3020"/>
<rect x="282.4" y="700.8" width="6.8" height="2.2" fill="#f2c23a"/>
<rect x="282.6" y="709.35" width="6.4" height="1.3" fill="#6a5020"/>
<rect x="282.6" y="712.2" width="6.4" height="1" fill="#3a1a1a"/>
<rect x="282.6" y="715.3" width="6.4" height="1" fill="#3a1a1a"/>
<rect x="282.6" y="727.55" width="6.4" height="0.9" fill="#4a2a2a"/>
<rect x="282.7" y="731.5" width="6.2" height="1" fill="#5a3030"/>
<rect x="282.7" y="736.8" width="6.2" height="2.2" fill="#f2c23a"/>
<rect x="282.7" y="741.5" width="6.2" height="1" fill="#4a2a22"/>
<rect x="282.7" y="744.2" width="6.2" height="1.8" fill="#b8a028"/>
<rect x="282.7" y="748.1" width="6.2" height="1" fill="#6a4a2a"/>
<rect x="282.7" y="755.15" width="6.2" height="1.9" fill="#000"/>
<rect x="282.7" y="758.3" width="6.2" height="1" fill="#3a2a2a"/>
<rect x="282.6" y="763.1" width="6.4" height="3.6" fill="#f0e03a"/>
<rect x="282.6" y="767.9" width="6.4" height="6.6" fill="#000"/>
<path d="M141.5 497.75V801.25H343.8" fill="none" stroke="#000" stroke-width="2.3" stroke-linecap="butt" stroke-linejoin="miter"/>
<line x1="138.15" x2="141.5" y1="498.9" y2="498.9" stroke="#000" stroke-width="2.0"/>
<text x="136.05" y="504.6" text-anchor="end" class="t">0.50</text>
<line x1="138.15" x2="141.5" y1="553.87" y2="553.87" stroke="#000" stroke-width="2.0"/>
<text x="136.05" y="559.57" text-anchor="end" class="t">0.40</text>
<line x1="138.15" x2="141.5" y1="608.84" y2="608.84" stroke="#000" stroke-width="2.0"/>
<text x="136.05" y="614.54" text-anchor="end" class="t">0.30</text>
<line x1="138.15" x2="141.5" y1="663.81" y2="663.81" stroke="#000" stroke-width="2.0"/>
<text x="136.05" y="669.51" text-anchor="end" class="t">0.20</text>
<line x1="138.15" x2="141.5" y1="718.78" y2="718.78" stroke="#000" stroke-width="2.0"/>
<text x="136.05" y="724.48" text-anchor="end" class="t">0.10</text>
<line x1="138.15" x2="141.5" y1="773.75" y2="773.75" stroke="#000" stroke-width="2.0"/>
<text x="136.05" y="779.45" text-anchor="end" class="t">0.00</text>
<line x1="199" x2="199" y1="801.25" y2="804.38" stroke="#000" stroke-width="2.0"/>
<line x1="285.8" x2="285.8" y1="801.25" y2="804.38" stroke="#000" stroke-width="2.0"/>
<text x="200.85" y="823.6" text-anchor="middle" class="t x">negative</text>
<text x="287.5" y="823.6" text-anchor="middle" class="t x">positive</text>
<text x="58.65" y="472.9" class="l">C</text>
<path d="M205.5 504.65V499.25H286V504.65" fill="none" stroke="#000" stroke-width="1.2" stroke-linejoin="round"/>
<text x="246.1" y="490.3" text-anchor="middle" class="s">****</text>
<text transform="translate(73.9 653) rotate(-90)" text-anchor="middle" class="t">ratio of</text>
<text transform="translate(95.7 776.1) rotate(-90)" class="t">OD<tspan class="sub" dx="1.75" dy="5.9">450nm</tspan><tspan dx="-1.2" dy="-5.9" letter-spacing="0.06"> (α-RBD-IgG / total IgG)</tspan></text>
</g>
<g id="panelD">
<path d="M462 739.9L466.2 740L468.5 740.55L495.5 740.75L495.5 741.25L467 741.4L462 741.6L462 741.6L457 741.4L428.5 741.25L428.5 740.75L455.5 740.55L457.8 740L462 739.9Z" fill="#000" stroke="#000" stroke-width="1.0" stroke-linejoin="round"/>
<line x1="462" x2="462" y1="719" y2="738" stroke="#000" stroke-width="1.1"/>
<rect x="458.8" y="718.25" width="6.4" height="1.5" fill="#000"/>
<rect x="458.8" y="730.35" width="6.4" height="1.3" fill="#000"/>
<rect x="458.8" y="733.2" width="6.4" height="2.2" fill="#000"/>
<rect x="458.9" y="736.9" width="6.2" height="4.6" fill="#000"/>
<path d="M563 555.7L563 556.91L563.01 558.11L563.01 559.32L563.02 560.53L563.04 561.74L563.05 562.94L563.07 564.15L563.11 565.36L563.16 566.57L563.22 567.77L563.3 568.98L563.42 570.19L563.61 571.4L563.83 572.6L564.06 573.81L564.31 575.02L564.59 576.22L564.88 577.43L565.14 578.64L565.41 579.85L565.65 581.05L565.83 582.26L566 583.47L566.13 584.68L566.2 585.88L566.18 587.09L566.11 588.3L566.03 589.51L565.96 590.71L565.91 591.92L565.85 593.13L565.79 594.34L565.73 595.54L565.66 596.75L565.6 597.96L565.54 599.16L565.49 600.37L565.44 601.58L565.39 602.79L565.35 603.99L565.29 605.2L565.22 606.41L565.15 607.62L565.06 608.82L564.97 610.03L564.87 611.24L564.75 612.45L564.63 613.65L564.51 614.86L564.39 616.07L564.27 617.27L564.15 618.48L564.03 619.69L563.92 620.9L563.81 622.1L563.71 623.31L563.61 624.52L563.52 625.73L563.43 626.93L563.35 628.14L563.27 629.35L563.2 630.56L563.16 631.76L563.13 632.97L563.1 634.18L563.07 635.38L563.06 636.59L563.05 637.8L563.05 639.01L563.05 640.21L563.05 641.42L563.05 642.63L563.05 643.84L563.05 645.04L563.06 646.25L563.08 647.46L563.1 648.67L563.14 649.87L563.2 651.08L563.3 652.29L563.43 653.49L563.61 654.7L563.82 655.91L564.08 657.12L564.4 658.32L564.74 659.53L565.1 660.74L565.44 661.95L565.78 663.15L566.14 664.36L566.53 665.57L566.99 666.78L567.53 667.98L568.14 669.19L568.78 670.4L569.4 671.61L570.02 672.81L570.66 674.02L571.29 675.23L571.89 676.43L572.44 677.64L572.97 678.85L573.48 680.06L573.93 681.26L574.31 682.47L574.66 683.68L574.98 684.89L575.23 686.09L575.39 687.3L575.48 688.51L575.55 689.72L575.59 690.92L575.6 692.13L575.5 693.34L575.32 694.54L575.08 695.75L574.83 696.96L574.54 698.17L574.17 699.37L573.74 700.58L573.29 701.79L572.82 703L572.25 704.2L571.65 705.41L571.12 706.62L570.74 707.83L570.42 709.03L570.13 710.24L569.94 711.45L569.91 712.65L570.16 713.86L570.64 715.07L571.26 716.28L572.12 717.48L573.6 718.69L575.44 719.9L577.31 721.11L579.29 722.31L581.48 723.52L583.56 724.73L585.25 725.94L586.55 727.14L587.97 728.35L590.04 729.56L592.27 730.76L593.78 731.97L594.95 733.18L595.75 734.39L595.87 735.59L595.63 736.8L595.21 738.01L594.08 739.22L592.26 740.42L590.18 741.63L588.1 742.84L585.68 744.05L583.12 745.25L580.68 746.46L578.38 747.67L576.12 748.88L574 750.08L572.12 751.29L570.36 752.5L568.75 753.7L567.38 754.91L566.23 756.12L565.14 757.33L564.27 758.53L563.79 759.74L563.59 760.95L563.45 762.16L563.35 763.36L563.26 764.57L563.17 765.78L563.1 766.99L563.04 768.19L563 769.4L563 769.4L562.96 768.19L562.9 766.99L562.83 765.78L562.74 764.57L562.65 763.36L562.55 762.16L562.41 760.95L562.21 759.74L561.73 758.53L560.86 757.33L559.77 756.12L558.62 754.91L557.25 753.7L555.64 752.5L553.88 751.29L552 750.08L549.88 748.88L547.62 747.67L545.32 746.46L542.88 745.25L540.32 744.05L537.9 742.84L535.82 741.63L533.74 740.42L531.92 739.22L530.79 738.01L530.37 736.8L530.13 735.59L530.25 734.39L531.05 733.18L532.22 731.97L533.73 730.76L535.96 729.56L538.03 728.35L539.45 727.14L540.75 725.94L542.44 724.73L544.52 723.52L546.71 722.31L548.69 721.11L550.56 719.9L552.4 718.69L553.88 717.48L554.74 716.28L555.36 715.07L555.84 713.86L556.09 712.65L556.06 711.45L555.87 710.24L555.58 709.03L555.26 707.83L554.88 706.62L554.35 705.41L553.75 704.2L553.18 703L552.71 701.79L552.26 700.58L551.83 699.37L551.46 698.17L551.17 696.96L550.92 695.75L550.68 694.54L550.5 693.34L550.4 692.13L550.41 690.92L550.45 689.72L550.52 688.51L550.61 687.3L550.77 686.09L551.02 684.89L551.34 683.68L551.69 682.47L552.07 681.26L552.52 680.06L553.03 678.85L553.56 677.64L554.11 676.43L554.71 675.23L555.34 674.02L555.98 672.81L556.6 671.61L557.22 670.4L557.86 669.19L558.47 667.98L559.01 666.78L559.47 665.57L559.86 664.36L560.22 663.15L560.56 661.95L560.9 660.74L561.26 659.53L561.6 658.32L561.92 657.12L562.18 655.91L562.39 654.7L562.57 653.49L562.7 652.29L562.8 651.08L562.86 649.87L562.9 648.67L562.92 647.46L562.94 646.25L562.95 645.04L562.95 643.84L562.95 642.63L562.95 641.42L562.95 640.21L562.95 639.01L562.95 637.8L562.94 636.59L562.93 635.38L562.9 634.18L562.87 632.97L562.84 631.76L562.8 630.56L562.73 629.35L562.65 628.14L562.57 626.93L562.48 625.73L562.39 624.52L562.29 623.31L562.19 622.1L562.08 620.9L561.97 619.69L561.85 618.48L561.73 617.27L561.61 616.07L561.49 614.86L561.37 613.65L561.25 612.45L561.13 611.24L561.03 610.03L560.94 608.82L560.85 607.62L560.78 606.41L560.71 605.2L560.65 603.99L560.61 602.79L560.56 601.58L560.51 600.37L560.46 599.16L560.4 597.96L560.34 596.75L560.27 595.54L560.21 594.34L560.15 593.13L560.09 591.92L560.04 590.71L559.97 589.51L559.89 588.3L559.82 587.09L559.8 585.88L559.87 584.68L560 583.47L560.17 582.26L560.35 581.05L560.59 579.85L560.86 578.64L561.12 577.43L561.41 576.22L561.69 575.02L561.94 573.81L562.17 572.6L562.39 571.4L562.58 570.19L562.7 568.98L562.78 567.77L562.84 566.57L562.89 565.36L562.93 564.15L562.95 562.94L562.96 561.74L562.98 560.53L562.99 559.32L562.99 558.11L563 556.91L563 555.7Z" fill="#e79696" stroke="#000" stroke-width="1.3" stroke-linejoin="round"/>
<line x1="550.4" x2="575.6" y1="691.8" y2="691.8" stroke="#c87575" stroke-width="0.8"/>
<line x1="530.63" x2="595.37" y1="737.6" y2="737.6" stroke="#c87575" stroke-width="0.8"/>
<line x1="538.1" x2="587.9" y1="728.3" y2="728.3" stroke="#000" stroke-width="1.4"/>
<rect x="559.4" y="584.3" width="7.2" height="1.4" fill="#f5d327"/>
<rect x="559.4" y="586.5" width="7.2" height="1.4" fill="#f5d327"/>
<rect x="560.3" y="599.6" width="5.4" height="1" fill="#1a0808"/>
<rect x="559.4" y="609" width="7.2" height="1.4" fill="#000"/>
<rect x="559.8" y="666" width="6.4" height="2" fill="#f4c83a"/>
<rect x="559.9" y="678.2" width="6.2" height="2.6" fill="#3a3034"/>
<rect x="559.9" y="681.1" width="6.2" height="1" fill="#7a5a5a"/>
<rect x="559.9" y="682.5" width="6.2" height="1.8" fill="#2a2024"/>
<rect x="559.9" y="688.3" width="6.2" height="2.6" fill="#f6d63a"/>
<rect x="559.9" y="691.75" width="6.2" height="3.5" fill="#2a2226"/>
<rect x="559.9" y="699.7" width="6.2" height="1.8" fill="#f6d63a"/>
<rect x="559.9" y="701.9" width="6.2" height="2.2" fill="#14100c"/>
<rect x="559.9" y="704.9" width="6.2" height="1.4" fill="#f6d63a"/>
<rect x="560" y="711.9" width="6" height="1" fill="#4a2a2a"/>
<rect x="559.9" y="721.45" width="6.2" height="1.3" fill="#f6d63a"/>
<rect x="559.9" y="723.35" width="6.2" height="1.1" fill="#5a5020"/>
<rect x="559.9" y="724.95" width="6.2" height="3.1" fill="#f0e03a"/>
<rect x="559.9" y="729.3" width="6.2" height="12" fill="#000"/>
<path d="M412.05 497.75V801.5H614.7" fill="none" stroke="#000" stroke-width="2.3" stroke-linecap="butt" stroke-linejoin="miter"/>
<line x1="409.5" x2="412.05" y1="498.9" y2="498.9" stroke="#000" stroke-width="2.0"/>
<text x="407.8" y="504.6" text-anchor="end" class="t">8</text>
<line x1="409.5" x2="412.05" y1="559.42" y2="559.42" stroke="#000" stroke-width="2.0"/>
<text x="407.8" y="565.12" text-anchor="end" class="t">6</text>
<line x1="409.5" x2="412.05" y1="619.94" y2="619.94" stroke="#000" stroke-width="2.0"/>
<text x="407.8" y="625.64" text-anchor="end" class="t">4</text>
<line x1="409.5" x2="412.05" y1="680.46" y2="680.46" stroke="#000" stroke-width="2.0"/>
<text x="407.8" y="686.16" text-anchor="end" class="t">2</text>
<line x1="409.5" x2="412.05" y1="740.98" y2="740.98" stroke="#000" stroke-width="2.0"/>
<text x="407.8" y="746.68" text-anchor="end" class="t">0</text>
<line x1="409.5" x2="412.05" y1="801.5" y2="801.5" stroke="#000" stroke-width="2.0"/>
<text x="407.8" y="807.2" text-anchor="end" class="t">-2</text>
<line x1="461.9" x2="461.9" y1="801.5" y2="803.91" stroke="#000" stroke-width="2.0"/>
<line x1="562.8" x2="562.8" y1="801.5" y2="803.91" stroke="#000" stroke-width="2.0"/>
<text x="462.9" y="823.6" text-anchor="middle" class="t x">negative</text>
<text x="563.5" y="823.6" text-anchor="middle" class="t x">positive</text>
<text x="352.25" y="473" class="l">D</text>
<path d="M464.5 504.65V499.25H562V504.65" fill="none" stroke="#000" stroke-width="1.2" stroke-linejoin="round"/>
<text x="513.85" y="490.3" text-anchor="middle" class="s">****</text>
<text transform="translate(367.7 654) rotate(-90)" text-anchor="middle" class="t">ratio of</text>
<text transform="translate(389.9 773.1) rotate(-90)" class="t">OD<tspan class="sub" dx="1.75" dy="5.9">450nm</tspan><tspan dx="-1.2" dy="-5.9" letter-spacing="0.06"> (α-RBD-IgG / albumin)</tspan></text>
</g>
<g id="panelG">
<path d="M762.5 769.8L767.5 770.2L772.5 771.2L791.4 772.9L772.5 774.2L766.5 775.2L762.5 776.3L762.5 776.3L758.5 775.2L752.5 774.2L733.6 772.9L752.5 771.2L757.5 770.2L762.5 769.8Z" fill="#0e1420" stroke="#000" stroke-width="1.0" stroke-linejoin="round"/>
<rect x="759.6" y="761.2" width="5.8" height="1.8" fill="#000"/>
<rect x="758.3" y="762.9" width="8.4" height="3.4" fill="#000"/>
<rect x="759.5" y="766.1" width="6" height="2.2" fill="#000"/>
<rect x="758.1" y="768.2" width="8.8" height="2" fill="#000"/>
<rect x="758.1" y="769.3" width="8.8" height="7" fill="#000"/>
<path d="M848.8 538.4L848.81 539.61L848.85 540.81L848.9 542.02L848.96 543.22L849.03 544.43L849.16 545.63L849.34 546.84L849.51 548.05L849.67 549.25L849.84 550.46L849.98 551.66L850.11 552.87L850.2 554.07L850.15 555.28L849.97 556.49L849.75 557.69L849.54 558.9L849.3 560.1L849.11 561.31L849.03 562.51L848.98 563.72L848.93 564.93L848.9 566.13L848.87 567.34L848.86 568.54L848.85 569.75L848.85 570.95L848.85 572.16L848.85 573.37L848.85 574.57L848.85 575.78L848.85 576.98L848.85 578.19L848.85 579.39L848.85 580.6L848.85 581.81L848.85 583.01L848.85 584.22L848.85 585.42L848.85 586.63L848.85 587.83L848.85 589.04L848.85 590.25L848.85 591.45L848.85 592.66L848.85 593.86L848.85 595.07L848.85 596.27L848.85 597.48L848.85 598.69L848.85 599.89L848.85 601.1L848.85 602.3L848.85 603.51L848.85 604.71L848.85 605.92L848.85 607.13L848.85 608.33L848.85 609.54L848.85 610.74L848.85 611.95L848.85 613.15L848.85 614.36L848.85 615.57L848.85 616.77L848.85 617.98L848.85 619.18L848.85 620.39L848.85 621.59L848.85 622.8L848.85 624.01L848.85 625.21L848.85 626.42L848.85 627.62L848.85 628.83L848.85 630.03L848.85 631.24L848.85 632.45L848.85 633.65L848.85 634.86L848.85 636.06L848.85 637.27L848.85 638.47L848.85 639.68L848.85 640.89L848.85 642.09L848.85 643.3L848.85 644.5L848.85 645.71L848.85 646.91L848.85 648.12L848.85 649.33L848.86 650.53L848.93 651.74L849.05 652.94L849.19 654.15L849.37 655.35L849.61 656.56L849.87 657.77L850.1 658.97L850.32 660.18L850.55 661.38L850.73 662.59L850.8 663.79L850.7 665L850.47 666.21L850.21 667.41L850 668.62L849.78 669.82L849.56 671.03L849.35 672.23L849.18 673.44L849.06 674.65L848.95 675.85L848.87 677.06L848.85 678.26L848.85 679.47L848.85 680.67L848.85 681.88L848.85 683.09L848.85 684.29L848.85 685.5L848.85 686.7L848.85 687.91L848.85 689.11L848.85 690.32L848.89 691.53L848.98 692.73L849.09 693.94L849.22 695.14L849.41 696.35L849.68 697.55L849.98 698.76L850.29 699.97L850.62 701.17L850.96 702.38L851.21 703.58L851.38 704.79L851.45 705.99L851.49 707.2L851.5 708.41L851.46 709.61L851.39 710.82L851.2 712.02L850.9 713.23L850.57 714.43L850.13 715.64L849.72 716.85L849.49 718.05L849.33 719.26L849.31 720.46L849.38 721.67L849.51 722.87L849.75 724.08L850.41 725.29L851.31 726.49L852.29 727.7L853.53 728.9L854.82 730.11L855.98 731.31L857.12 732.52L858.11 733.73L858.9 734.93L859.6 736.14L860.12 737.34L860.47 738.55L860.76 739.75L860.9 740.96L860.85 742.17L860.7 743.37L860.5 744.58L860.2 745.78L859.77 746.99L859.37 748.19L858.96 749.4L858.7 750.61L859.12 751.81L860.14 753.02L861.48 754.22L863.47 755.43L865.58 756.63L867.47 757.84L869.35 759.05L871.07 760.25L872.73 761.46L874.27 762.66L875.38 763.87L876.14 765.07L876.69 766.28L876.76 767.49L876.41 768.69L875.67 769.9L873.96 771.1L871.73 772.31L869.3 773.51L866.27 774.72L863.03 775.93L860.03 777.13L857.09 778.34L854.16 779.54L851.77 780.75L850.37 781.95L849.42 783.16L849.09 784.37L849.05 785.57L849.03 786.78L849 787.98L848.95 789.19L848.88 790.39L848.8 791.6L848.8 791.6L848.72 790.39L848.65 789.19L848.6 787.98L848.57 786.78L848.55 785.57L848.51 784.37L848.18 783.16L847.23 781.95L845.83 780.75L843.44 779.54L840.51 778.34L837.57 777.13L834.57 775.93L831.33 774.72L828.3 773.51L825.87 772.31L823.64 771.1L821.93 769.9L821.19 768.69L820.84 767.49L820.91 766.28L821.46 765.07L822.22 763.87L823.33 762.66L824.87 761.46L826.53 760.25L828.25 759.05L830.13 757.84L832.02 756.63L834.13 755.43L836.12 754.22L837.46 753.02L838.48 751.81L838.9 750.61L838.64 749.4L838.23 748.19L837.83 746.99L837.4 745.78L837.1 744.58L836.9 743.37L836.75 742.17L836.7 740.96L836.84 739.75L837.13 738.55L837.48 737.34L838 736.14L838.7 734.93L839.49 733.73L840.48 732.52L841.62 731.31L842.78 730.11L844.07 728.9L845.31 727.7L846.29 726.49L847.19 725.29L847.85 724.08L848.09 722.87L848.22 721.67L848.29 720.46L848.27 719.26L848.11 718.05L847.88 716.85L847.47 715.64L847.03 714.43L846.7 713.23L846.4 712.02L846.21 710.82L846.14 709.61L846.1 708.41L846.11 707.2L846.15 705.99L846.22 704.79L846.39 703.58L846.64 702.38L846.98 701.17L847.31 699.97L847.62 698.76L847.92 697.55L848.19 696.35L848.38 695.14L848.51 693.94L848.62 692.73L848.71 691.53L848.75 690.32L848.75 689.11L848.75 687.91L848.75 686.7L848.75 685.5L848.75 684.29L848.75 683.09L848.75 681.88L848.75 680.67L848.75 679.47L848.75 678.26L848.73 677.06L848.65 675.85L848.54 674.65L848.42 673.44L848.25 672.23L848.04 671.03L847.82 669.82L847.6 668.62L847.39 667.41L847.13 666.21L846.9 665L846.8 663.79L846.87 662.59L847.05 661.38L847.28 660.18L847.5 658.97L847.73 657.77L847.99 656.56L848.23 655.35L848.41 654.15L848.55 652.94L848.67 651.74L848.74 650.53L848.75 649.33L848.75 648.12L848.75 646.91L848.75 645.71L848.75 644.5L848.75 643.3L848.75 642.09L848.75 640.89L848.75 639.68L848.75 638.47L848.75 637.27L848.75 636.06L848.75 634.86L848.75 633.65L848.75 632.45L848.75 631.24L848.75 630.03L848.75 628.83L848.75 627.62L848.75 626.42L848.75 625.21L848.75 624.01L848.75 622.8L848.75 621.59L848.75 620.39L848.75 619.18L848.75 617.98L848.75 616.77L848.75 615.57L848.75 614.36L848.75 613.15L848.75 611.95L848.75 610.74L848.75 609.54L848.75 608.33L848.75 607.13L848.75 605.92L848.75 604.71L848.75 603.51L848.75 602.3L848.75 601.1L848.75 599.89L848.75 598.69L848.75 597.48L848.75 596.27L848.75 595.07L848.75 593.86L848.75 592.66L848.75 591.45L848.75 590.25L848.75 589.04L848.75 587.83L848.75 586.63L848.75 585.42L848.75 584.22L848.75 583.01L848.75 581.81L848.75 580.6L848.75 579.39L848.75 578.19L848.75 576.98L848.75 575.78L848.75 574.57L848.75 573.37L848.75 572.16L848.75 570.95L848.75 569.75L848.74 568.54L848.73 567.34L848.7 566.13L848.67 564.93L848.62 563.72L848.57 562.51L848.49 561.31L848.3 560.1L848.06 558.9L847.85 557.69L847.63 556.49L847.45 555.28L847.4 554.07L847.49 552.87L847.62 551.66L847.76 550.46L847.93 549.25L848.09 548.05L848.26 546.84L848.44 545.63L848.57 544.43L848.64 543.22L848.7 542.02L848.75 540.81L848.79 539.61L848.8 538.4Z" fill="#a9c1e6" stroke="#000" stroke-width="1.25" stroke-linejoin="round"/>
<line x1="836.74" x2="860.86" y1="742" y2="742" stroke="#7f9ac8" stroke-width="0.8"/>
<line x1="821.04" x2="876.56" y1="768.3" y2="768.3" stroke="#7f9ac8" stroke-width="1.0"/>
<line x1="826.6" x2="871" y1="760.2" y2="760.2" stroke="#0a1428" stroke-width="1.5"/>
<rect x="845.3" y="553.65" width="7" height="1.5" fill="#e6e84a"/>
<rect x="845.6" y="663.2" width="6.4" height="1.2" fill="#000"/>
<rect x="845.5" y="704.9" width="6.6" height="1.2" fill="#000"/>
<rect x="845.3" y="710" width="7" height="1.6" fill="#e6e84a"/>
<rect x="845.5" y="726.1" width="6.6" height="1.8" fill="#e6e84a"/>
<rect x="845.6" y="732.35" width="6.4" height="1.3" fill="#000"/>
<rect x="845.6" y="735.4" width="6.4" height="1.2" fill="#7a8490"/>
<rect x="845.6" y="736.7" width="6.4" height="2.2" fill="#5a5a20"/>
<rect x="845.5" y="739.25" width="6.6" height="3.5" fill="#e6e83e"/>
<rect x="845.5" y="742.8" width="6.6" height="0.8" fill="#8a8a30"/>
<rect x="845.5" y="743.7" width="6.6" height="2.6" fill="#f0f070"/>
<rect x="845.5" y="746.8" width="6.6" height="4.4" fill="#eef040"/>
<rect x="845.6" y="751.55" width="6.4" height="1.3" fill="#8a94a8"/>
<rect x="845.6" y="753.7" width="6.4" height="2.6" fill="#4a4e56"/>
<rect x="845.6" y="756.2" width="6.4" height="2.6" fill="#33363c"/>
<rect x="845.6" y="758.7" width="6.4" height="1.8" fill="#222"/>
<rect x="845.6" y="760.5" width="6.4" height="15" fill="#000"/>
<rect x="845.6" y="764.1" width="6.4" height="0.8" fill="#4a4e56"/>
<rect x="845.6" y="771.1" width="6.4" height="0.8" fill="#3a3e46"/>
<path d="M705.1 497.75V801.25H907" fill="none" stroke="#000" stroke-width="2.3" stroke-linecap="butt" stroke-linejoin="miter"/>
<line x1="701.95" x2="705.1" y1="498.9" y2="498.9" stroke="#000" stroke-width="2.0"/>
<text x="700.6" y="504.6" text-anchor="end" class="t">0.20</text>
<line x1="701.95" x2="705.1" y1="567.6" y2="567.6" stroke="#000" stroke-width="2.0"/>
<text x="700.6" y="573.3" text-anchor="end" class="t">0.15</text>
<line x1="701.95" x2="705.1" y1="636.3" y2="636.3" stroke="#000" stroke-width="2.0"/>
<text x="700.6" y="642" text-anchor="end" class="t">0.10</text>
<line x1="701.95" x2="705.1" y1="705" y2="705" stroke="#000" stroke-width="2.0"/>
<text x="700.6" y="710.7" text-anchor="end" class="t">0.05</text>
<line x1="701.95" x2="705.1" y1="773.8" y2="773.8" stroke="#000" stroke-width="2.0"/>
<text x="700.6" y="779.5" text-anchor="end" class="t">0.00</text>
<line x1="701.95" x2="705.1" y1="801.25" y2="801.25" stroke="#000" stroke-width="2.0"/>
<text x="700.6" y="806.95" text-anchor="end" class="t">-0.02</text>
<line x1="762.5" x2="762.5" y1="801.25" y2="804.2" stroke="#000" stroke-width="2.0"/>
<line x1="848.9" x2="848.9" y1="801.25" y2="804.2" stroke="#000" stroke-width="2.0"/>
<text x="763.6" y="823.6" text-anchor="middle" class="t x">negative</text>
<text x="849.8" y="823.6" text-anchor="middle" class="t x">positive</text>
<text x="626.05" y="472.9" class="l">G</text>
<path d="M767 504.65V499.25H848.75V504.65" fill="none" stroke="#000" stroke-width="1.2" stroke-linejoin="round"/>
<text x="808.1" y="490.3" text-anchor="middle" class="s">****</text>
<text transform="translate(637.6 653.2) rotate(-90)" text-anchor="middle" class="t">ratio of</text>
<text transform="translate(659.3 773.1) rotate(-90)" class="t">OD<tspan class="sub" dx="1.75" dy="5.9">450nm</tspan><tspan dx="-1.2" dy="-5.9" letter-spacing="0.06"> (α-RBD-IgA / total IgA)</tspan></text>
</g>
<g id="panelH">
<path d="M1028.5 692L1028.62 693.25L1028.9 694.5L1029.86 695.75L1031.12 697L1031.23 698.24L1030.04 699.49L1029.04 700.74L1029 701.99L1029 703.24L1029 704.49L1029 705.74L1029.02 706.99L1029.06 708.24L1029.25 709.48L1030.64 710.73L1031.34 711.98L1031.4 713.23L1031.4 714.48L1031.4 715.73L1030.71 716.98L1030 718.23L1030.68 719.48L1031.83 720.72L1032.84 721.97L1033.87 723.22L1035 724.47L1036.1 725.72L1037.18 726.97L1038.46 728.22L1040.05 729.47L1041.77 730.72L1043.81 731.96L1046.62 733.21L1050.25 734.46L1056.1 735.71L1061.05 736.96L1061.54 738.21L1058.5 739.46L1053.32 740.71L1046.93 741.96L1041.07 743.2L1034.91 744.45L1030.96 745.7L1029.11 746.95L1028.5 748.2L1028.5 748.2L1027.89 746.95L1026.04 745.7L1022.09 744.45L1015.93 743.2L1010.07 741.96L1003.68 740.71L998.5 739.46L995.46 738.21L995.95 736.96L1000.9 735.71L1006.75 734.46L1010.38 733.21L1013.19 731.96L1015.23 730.72L1016.95 729.47L1018.54 728.22L1019.82 726.97L1020.9 725.72L1022 724.47L1023.13 723.22L1024.16 721.97L1025.17 720.72L1026.32 719.48L1027 718.23L1026.29 716.98L1025.6 715.73L1025.6 714.48L1025.6 713.23L1025.66 711.98L1026.36 710.73L1027.75 709.48L1027.94 708.24L1027.98 706.99L1028 705.74L1028 704.49L1028 703.24L1028 701.99L1027.96 700.74L1026.96 699.49L1025.77 698.24L1025.88 697L1027.14 695.75L1028.1 694.5L1028.38 693.25L1028.5 692Z" fill="#a9c1e6" stroke="#000" stroke-width="1.2" stroke-linejoin="round"/>
<line x1="997.31" x2="1059.69" y1="736.5" y2="736.5" stroke="#000" stroke-width="1.2"/>
<rect x="1026.1" y="696.9" width="4.8" height="1.6" fill="#2a2a2a"/>
<rect x="1025.8" y="712" width="5.4" height="1" fill="#000"/>
<rect x="1025.8" y="713.65" width="5.4" height="0.9" fill="#444"/>
<rect x="1025.8" y="715.3" width="5.4" height="1" fill="#000"/>
<rect x="1025.5" y="724.2" width="6" height="1.6" fill="#000"/>
<rect x="1025.3" y="727.9" width="6.4" height="14.8" fill="#000"/>
<path d="M1129.4 529.6L1129.47 530.81L1129.54 532.01L1129.61 533.22L1129.69 534.43L1129.77 535.64L1129.86 536.84L1129.94 538.05L1130.03 539.26L1130.13 540.47L1130.26 541.67L1130.46 542.88L1130.8 544.09L1131.14 545.29L1131.4 546.5L1131.64 547.71L1131.83 548.92L1131.9 550.12L1131.83 551.33L1131.69 552.54L1131.53 553.75L1131.38 554.95L1131.19 556.16L1131.01 557.37L1130.91 558.57L1130.92 559.78L1131.03 560.99L1131.18 562.2L1131.33 563.4L1131.47 564.61L1131.64 565.82L1131.79 567.02L1131.89 568.23L1131.86 569.44L1131.64 570.65L1131.35 571.85L1131.09 573.06L1130.87 574.27L1130.64 575.48L1130.42 576.68L1130.22 577.89L1130.07 579.1L1129.99 580.3L1129.94 581.51L1129.89 582.72L1129.85 583.93L1129.82 585.13L1129.79 586.34L1129.77 587.55L1129.76 588.76L1129.75 589.96L1129.77 591.17L1129.84 592.38L1129.94 593.58L1130.07 594.79L1130.2 596L1130.36 597.21L1130.57 598.41L1130.81 599.62L1131.06 600.83L1131.36 602.04L1131.65 603.24L1131.88 604.45L1132.08 605.66L1132.2 606.86L1132.19 608.07L1132.17 609.28L1132.14 610.49L1132.11 611.69L1132.09 612.9L1132.07 614.11L1132.06 615.32L1132.03 616.52L1132 617.73L1131.86 618.94L1131.56 620.14L1131.24 621.35L1130.99 622.56L1130.76 623.77L1130.53 624.97L1130.32 626.18L1130.17 627.39L1130.08 628.59L1130.01 629.8L1129.94 631.01L1129.89 632.22L1129.84 633.42L1129.8 634.63L1129.77 635.84L1129.76 637.05L1129.75 638.25L1129.78 639.46L1129.83 640.67L1129.91 641.87L1130.02 643.08L1130.16 644.29L1130.33 645.5L1130.64 646.7L1131.05 647.91L1131.45 649.12L1131.75 650.33L1132.03 651.53L1132.25 652.74L1132.29 653.95L1132.16 655.15L1131.97 656.36L1131.71 657.57L1131.39 658.78L1131.13 659.98L1130.97 661.19L1130.81 662.4L1130.69 663.61L1130.61 664.81L1130.62 666.02L1130.78 667.23L1131.03 668.43L1131.26 669.64L1131.42 670.85L1131.55 672.06L1131.67 673.26L1131.77 674.47L1131.87 675.68L1132 676.88L1132.15 678.09L1132.34 679.3L1132.63 680.51L1133.4 681.71L1134.54 682.92L1135.57 684.13L1136.5 685.34L1137.39 686.54L1138.19 687.75L1138.85 688.96L1139.47 690.16L1140 691.37L1140.37 692.58L1140.6 693.79L1140.77 694.99L1140.9 696.2L1141.03 697.41L1141.13 698.62L1141.23 699.82L1141.34 701.03L1141.51 702.24L1141.76 703.44L1142.09 704.65L1142.52 705.86L1143.32 707.07L1144.25 708.27L1144.98 709.48L1146.01 710.69L1147.69 711.9L1149.12 713.1L1150.27 714.31L1152.02 715.52L1154.06 716.72L1155.56 717.93L1156.85 719.14L1157.98 720.35L1159.02 721.55L1160 722.76L1160.83 723.97L1161.41 725.18L1161.88 726.38L1162.22 727.59L1162.28 728.8L1162.04 730L1161.61 731.21L1160.55 732.42L1158.87 733.63L1156.91 734.83L1154.91 736.04L1152.54 737.25L1149.97 738.45L1147.47 739.66L1145.09 740.87L1142.71 742.08L1140.45 743.28L1138.44 744.49L1136.55 745.7L1134.8 746.91L1133.31 748.11L1132.08 749.32L1130.96 750.53L1130.21 751.73L1129.95 752.94L1129.79 754.15L1129.69 755.36L1129.62 756.56L1129.55 757.77L1129.49 758.98L1129.44 760.19L1129.41 761.39L1129.4 762.6L1129.4 762.6L1129.39 761.39L1129.36 760.19L1129.31 758.98L1129.25 757.77L1129.18 756.56L1129.11 755.36L1129.01 754.15L1128.85 752.94L1128.59 751.73L1127.84 750.53L1126.72 749.32L1125.49 748.11L1124 746.91L1122.25 745.7L1120.36 744.49L1118.35 743.28L1116.09 742.08L1113.71 740.87L1111.33 739.66L1108.83 738.45L1106.26 737.25L1103.89 736.04L1101.89 734.83L1099.93 733.63L1098.25 732.42L1097.19 731.21L1096.76 730L1096.52 728.8L1096.58 727.59L1096.92 726.38L1097.39 725.18L1097.97 723.97L1098.8 722.76L1099.78 721.55L1100.82 720.35L1101.95 719.14L1103.24 717.93L1104.74 716.72L1106.78 715.52L1108.53 714.31L1109.68 713.1L1111.11 711.9L1112.79 710.69L1113.82 709.48L1114.55 708.27L1115.48 707.07L1116.28 705.86L1116.71 704.65L1117.04 703.44L1117.29 702.24L1117.46 701.03L1117.57 699.82L1117.67 698.62L1117.77 697.41L1117.9 696.2L1118.03 694.99L1118.2 693.79L1118.43 692.58L1118.8 691.37L1119.33 690.16L1119.95 688.96L1120.61 687.75L1121.41 686.54L1122.3 685.34L1123.23 684.13L1124.26 682.92L1125.4 681.71L1126.17 680.51L1126.46 679.3L1126.65 678.09L1126.8 676.88L1126.93 675.68L1127.03 674.47L1127.13 673.26L1127.25 672.06L1127.38 670.85L1127.54 669.64L1127.77 668.43L1128.02 667.23L1128.18 666.02L1128.19 664.81L1128.11 663.61L1127.99 662.4L1127.83 661.19L1127.67 659.98L1127.41 658.78L1127.09 657.57L1126.83 656.36L1126.64 655.15L1126.51 653.95L1126.55 652.74L1126.77 651.53L1127.05 650.33L1127.35 649.12L1127.75 647.91L1128.16 646.7L1128.47 645.5L1128.64 644.29L1128.78 643.08L1128.89 641.87L1128.97 640.67L1129.02 639.46L1129.05 638.25L1129.04 637.05L1129.03 635.84L1129 634.63L1128.96 633.42L1128.91 632.22L1128.86 631.01L1128.79 629.8L1128.72 628.59L1128.63 627.39L1128.48 626.18L1128.27 624.97L1128.04 623.77L1127.81 622.56L1127.56 621.35L1127.24 620.14L1126.94 618.94L1126.8 617.73L1126.77 616.52L1126.74 615.32L1126.73 614.11L1126.71 612.9L1126.69 611.69L1126.66 610.49L1126.63 609.28L1126.61 608.07L1126.6 606.86L1126.72 605.66L1126.92 604.45L1127.15 603.24L1127.44 602.04L1127.74 600.83L1127.99 599.62L1128.23 598.41L1128.44 597.21L1128.6 596L1128.73 594.79L1128.86 593.58L1128.96 592.38L1129.03 591.17L1129.05 589.96L1129.04 588.76L1129.03 587.55L1129.01 586.34L1128.98 585.13L1128.95 583.93L1128.91 582.72L1128.86 581.51L1128.81 580.3L1128.73 579.1L1128.58 577.89L1128.38 576.68L1128.16 575.48L1127.93 574.27L1127.71 573.06L1127.45 571.85L1127.16 570.65L1126.94 569.44L1126.91 568.23L1127.01 567.02L1127.16 565.82L1127.33 564.61L1127.47 563.4L1127.62 562.2L1127.77 560.99L1127.88 559.78L1127.89 558.57L1127.79 557.37L1127.61 556.16L1127.42 554.95L1127.27 553.75L1127.11 552.54L1126.97 551.33L1126.9 550.12L1126.97 548.92L1127.16 547.71L1127.4 546.5L1127.66 545.29L1128 544.09L1128.34 542.88L1128.54 541.67L1128.67 540.47L1128.77 539.26L1128.86 538.05L1128.94 536.84L1129.03 535.64L1129.11 534.43L1129.19 533.22L1129.26 532.01L1129.33 530.81L1129.4 529.6Z" fill="#a9c1e6" stroke="#000" stroke-width="1.15" stroke-linejoin="round"/>
<line x1="1100.6" x2="1158.2" y1="720.6" y2="720.6" stroke="#14243c" stroke-width="1.5"/>
<rect x="1125.8" y="549.6" width="7.2" height="1.6" fill="#e6e84a"/>
<rect x="1125.8" y="567.9" width="7.2" height="1.6" fill="#e6e84a"/>
<rect x="1126.4" y="605.9" width="6" height="1.2" fill="#000"/>
<rect x="1125.8" y="617" width="7.2" height="1.6" fill="#e6e84a"/>
<rect x="1126" y="652.3" width="6.8" height="2.6" fill="#e6e84a"/>
<rect x="1126.8" y="655.75" width="5.2" height="0.9" fill="#1a2230"/>
<rect x="1127.1" y="672.05" width="4.6" height="0.9" fill="#1a2230"/>
<rect x="1126.1" y="679.75" width="6.6" height="0.9" fill="#1a2230"/>
<rect x="1126.2" y="690" width="6.4" height="1.4" fill="#000"/>
<rect x="1126.2" y="691.8" width="6.4" height="1.8" fill="#a8a830"/>
<rect x="1126.2" y="693.65" width="6.4" height="0.9" fill="#000"/>
<rect x="1126.2" y="698.95" width="6.4" height="1.3" fill="#8a98b0"/>
<rect x="1126.2" y="700.1" width="6.4" height="1.8" fill="#eef050"/>
<rect x="1126.2" y="701.9" width="6.4" height="1.2" fill="#6a6a20"/>
<rect x="1126.2" y="702.8" width="6.4" height="2.2" fill="#eef040"/>
<rect x="1126.2" y="705.1" width="6.4" height="1.8" fill="#f0f090"/>
<rect x="1126.2" y="710.3" width="6.4" height="2" fill="#3a4a50"/>
<rect x="1126.2" y="712.55" width="6.4" height="1.3" fill="#b8c4d8"/>
<rect x="1126.2" y="714.75" width="6.4" height="1.3" fill="#b0b030"/>
<rect x="1126.2" y="716.5" width="6.4" height="1.8" fill="#eef040"/>
<rect x="1126.2" y="718.5" width="6.4" height="1.2" fill="#6a6a20"/>
<rect x="1126.2" y="721.3" width="6.4" height="1.8" fill="#000"/>
<rect x="1126.2" y="723.4" width="6.4" height="1" fill="#e0e040"/>
<rect x="1126.2" y="724.95" width="6.4" height="2.1" fill="#000"/>
<rect x="1126.2" y="727.45" width="6.4" height="1.3" fill="#e8e840"/>
<rect x="1126.2" y="729.25" width="6.4" height="2.7" fill="#000"/>
<rect x="1126.2" y="732.25" width="6.4" height="0.9" fill="#8a8a30"/>
<rect x="1126.2" y="733.3" width="6.4" height="1.4" fill="#000"/>
<rect x="1126.2" y="734.9" width="6.4" height="0.8" fill="#8a8a30"/>
<rect x="1126.2" y="735.8" width="6.4" height="4.8" fill="#000"/>
<rect x="1126.2" y="740.6" width="6.4" height="1.4" fill="#2a3444"/>
<path d="M977.9 497.85V801.5H1180.6" fill="none" stroke="#000" stroke-width="2.3" stroke-linecap="butt" stroke-linejoin="miter"/>
<line x1="975.25" x2="977.9" y1="499" y2="499" stroke="#000" stroke-width="2.0"/>
<text x="968.3" y="504.7" text-anchor="end" class="t">8</text>
<line x1="975.25" x2="977.9" y1="559.5" y2="559.5" stroke="#000" stroke-width="2.0"/>
<text x="968.3" y="565.2" text-anchor="end" class="t">6</text>
<line x1="975.25" x2="977.9" y1="620" y2="620" stroke="#000" stroke-width="2.0"/>
<text x="968.3" y="625.7" text-anchor="end" class="t">4</text>
<line x1="975.25" x2="977.9" y1="680.5" y2="680.5" stroke="#000" stroke-width="2.0"/>
<text x="968.3" y="686.2" text-anchor="end" class="t">2</text>
<line x1="975.25" x2="977.9" y1="741" y2="741" stroke="#000" stroke-width="2.0"/>
<text x="968.3" y="746.7" text-anchor="end" class="t">0</text>
<line x1="975.25" x2="977.9" y1="801.5" y2="801.5" stroke="#000" stroke-width="2.0"/>
<text x="968.3" y="807.2" text-anchor="end" class="t">-2</text>
<line x1="1028.6" x2="1028.6" y1="801.5" y2="804" stroke="#000" stroke-width="2.0"/>
<line x1="1129.4" x2="1129.4" y1="801.5" y2="804" stroke="#000" stroke-width="2.0"/>
<text x="1026.7" y="823.6" text-anchor="middle" class="t x">negative</text>
<text x="1127.9" y="823.6" text-anchor="middle" class="t x">positive</text>
<text x="919.5" y="473" class="l">H</text>
<path d="M1030.5 504.65V499.25H1128V504.65" fill="none" stroke="#000" stroke-width="1.2" stroke-linejoin="round"/>
<text x="1080.1" y="490.3" text-anchor="middle" class="s">****</text>
<text transform="translate(928.3 654) rotate(-90)" text-anchor="middle" class="t">ratio of</text>
<text transform="translate(950.2 772.5) rotate(-90)" class="t">OD<tspan class="sub" dx="1.75" dy="5.9">450nm</tspan><tspan dx="-1.2" dy="-5.9" letter-spacing="0.06"> (α-RBD-IgA / albumin)</tspan></text>
</g>
</svg>
</body></html>
